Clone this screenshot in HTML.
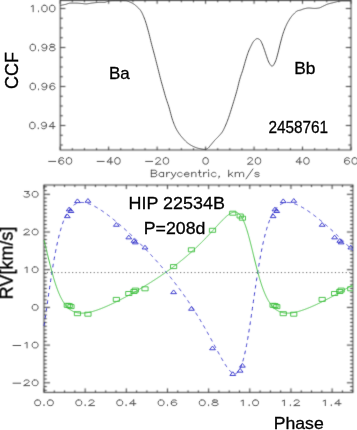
<!DOCTYPE html>
<html><head><meta charset="utf-8"><style>html,body{margin:0;padding:0;background:#fff;width:357px;height:430px;overflow:hidden}svg{display:block}text{will-change:transform}</style></head>
<body><svg width="357" height="430" viewBox="0 0 357 430">
<defs><clipPath id="cb"><rect x="44.0" y="185.0" width="308.9" height="207.39999999999998"/></clipPath><filter id="bl" x="0" y="0" width="357" height="430" filterUnits="userSpaceOnUse" color-interpolation-filters="sRGB"><feConvolveMatrix order="3" kernelMatrix="0.0400 0.1200 0.0400 0.1200 0.3600 0.1200 0.0400 0.1200 0.0400" edgeMode="duplicate"/></filter><filter id="bl2" x="0" y="0" width="357" height="430" filterUnits="userSpaceOnUse" color-interpolation-filters="sRGB"><feConvolveMatrix order="3" kernelMatrix="0.0100 0.0800 0.0100 0.0800 0.6400 0.0800 0.0100 0.0800 0.0100" edgeMode="none"/></filter></defs><rect width="357" height="430" fill="#fff"/><g filter="url(#bl)"><rect x="60.2" y="0.4" width="290.8" height="149.6" fill="none" stroke="#3a3a3a" stroke-width="1"/>
<path d="M60.20 150.0V146.60M60.20 0.4V3.80M72.32 150.0V148.20M72.32 0.4V2.20M84.43 150.0V148.20M84.43 0.4V2.20M96.55 150.0V148.20M96.55 0.4V2.20M108.67 150.0V146.60M108.67 0.4V3.80M120.78 150.0V148.20M120.78 0.4V2.20M132.90 150.0V148.20M132.90 0.4V2.20M145.02 150.0V148.20M145.02 0.4V2.20M157.13 150.0V146.60M157.13 0.4V3.80M169.25 150.0V148.20M169.25 0.4V2.20M181.37 150.0V148.20M181.37 0.4V2.20M193.48 150.0V148.20M193.48 0.4V2.20M205.60 150.0V146.60M205.60 0.4V3.80M217.72 150.0V148.20M217.72 0.4V2.20M229.83 150.0V148.20M229.83 0.4V2.20M241.95 150.0V148.20M241.95 0.4V2.20M254.07 150.0V146.60M254.07 0.4V3.80M266.18 150.0V148.20M266.18 0.4V2.20M278.30 150.0V148.20M278.30 0.4V2.20M290.42 150.0V148.20M290.42 0.4V2.20M302.53 150.0V146.60M302.53 0.4V3.80M314.65 150.0V148.20M314.65 0.4V2.20M326.77 150.0V148.20M326.77 0.4V2.20M338.88 150.0V148.20M338.88 0.4V2.20M351.00 150.0V146.60M351.00 0.4V3.80M60.2 145.00H62.80M351.0 145.00H348.40M60.2 135.25H62.80M351.0 135.25H348.40M60.2 125.50H65.40M351.0 125.50H345.80M60.2 115.75H62.80M351.0 115.75H348.40M60.2 106.00H62.80M351.0 106.00H348.40M60.2 96.25H62.80M351.0 96.25H348.40M60.2 86.50H65.40M351.0 86.50H345.80M60.2 76.75H62.80M351.0 76.75H348.40M60.2 67.00H62.80M351.0 67.00H348.40M60.2 57.25H62.80M351.0 57.25H348.40M60.2 47.50H65.40M351.0 47.50H345.80M60.2 37.75H62.80M351.0 37.75H348.40M60.2 28.00H62.80M351.0 28.00H348.40M60.2 18.25H62.80M351.0 18.25H348.40M60.2 8.50H65.40M351.0 8.50H345.80" stroke="#3a3a3a" stroke-width="1" fill="none"/>
<rect x="44.0" y="185.0" width="308.9" height="207.39999999999998" fill="none" stroke="#3a3a3a" stroke-width="1"/>
<path d="M44.00 392.4V388.40M44.00 185.0V189.00M54.29 392.4V390.40M54.29 185.0V187.00M64.58 392.4V390.40M64.58 185.0V187.00M74.87 392.4V390.40M74.87 185.0V187.00M85.16 392.4V388.40M85.16 185.0V189.00M95.45 392.4V390.40M95.45 185.0V187.00M105.74 392.4V390.40M105.74 185.0V187.00M116.03 392.4V390.40M116.03 185.0V187.00M126.32 392.4V388.40M126.32 185.0V189.00M136.61 392.4V390.40M136.61 185.0V187.00M146.90 392.4V390.40M146.90 185.0V187.00M157.19 392.4V390.40M157.19 185.0V187.00M167.48 392.4V388.40M167.48 185.0V189.00M177.77 392.4V390.40M177.77 185.0V187.00M188.06 392.4V390.40M188.06 185.0V187.00M198.35 392.4V390.40M198.35 185.0V187.00M208.64 392.4V388.40M208.64 185.0V189.00M218.93 392.4V390.40M218.93 185.0V187.00M229.22 392.4V390.40M229.22 185.0V187.00M239.51 392.4V390.40M239.51 185.0V187.00M249.80 392.4V388.40M249.80 185.0V189.00M260.09 392.4V390.40M260.09 185.0V187.00M270.38 392.4V390.40M270.38 185.0V187.00M280.67 392.4V390.40M280.67 185.0V187.00M290.96 392.4V388.40M290.96 185.0V189.00M301.25 392.4V390.40M301.25 185.0V187.00M311.54 392.4V390.40M311.54 185.0V187.00M321.83 392.4V390.40M321.83 185.0V187.00M332.12 392.4V388.40M332.12 185.0V189.00M342.41 392.4V390.40M342.41 185.0V187.00M352.70 392.4V390.40M352.70 185.0V187.00M44.0 390.34H46.80M352.9 390.34H350.10M44.0 386.57H46.80M352.9 386.57H350.10M44.0 382.80H50.00M352.9 382.80H346.90M44.0 379.03H46.80M352.9 379.03H350.10M44.0 375.26H46.80M352.9 375.26H350.10M44.0 371.49H46.80M352.9 371.49H350.10M44.0 367.72H46.80M352.9 367.72H350.10M44.0 363.95H46.80M352.9 363.95H350.10M44.0 360.18H46.80M352.9 360.18H350.10M44.0 356.41H46.80M352.9 356.41H350.10M44.0 352.64H46.80M352.9 352.64H350.10M44.0 348.87H46.80M352.9 348.87H350.10M44.0 345.10H50.00M352.9 345.10H346.90M44.0 341.33H46.80M352.9 341.33H350.10M44.0 337.56H46.80M352.9 337.56H350.10M44.0 333.79H46.80M352.9 333.79H350.10M44.0 330.02H46.80M352.9 330.02H350.10M44.0 326.25H46.80M352.9 326.25H350.10M44.0 322.48H46.80M352.9 322.48H350.10M44.0 318.71H46.80M352.9 318.71H350.10M44.0 314.94H46.80M352.9 314.94H350.10M44.0 311.17H46.80M352.9 311.17H350.10M44.0 307.40H50.00M352.9 307.40H346.90M44.0 303.63H46.80M352.9 303.63H350.10M44.0 299.86H46.80M352.9 299.86H350.10M44.0 296.09H46.80M352.9 296.09H350.10M44.0 292.32H46.80M352.9 292.32H350.10M44.0 288.55H46.80M352.9 288.55H350.10M44.0 284.78H46.80M352.9 284.78H350.10M44.0 281.01H46.80M352.9 281.01H350.10M44.0 277.24H46.80M352.9 277.24H350.10M44.0 273.47H46.80M352.9 273.47H350.10M44.0 269.70H50.00M352.9 269.70H346.90M44.0 265.93H46.80M352.9 265.93H350.10M44.0 262.16H46.80M352.9 262.16H350.10M44.0 258.39H46.80M352.9 258.39H350.10M44.0 254.62H46.80M352.9 254.62H350.10M44.0 250.85H46.80M352.9 250.85H350.10M44.0 247.08H46.80M352.9 247.08H350.10M44.0 243.31H46.80M352.9 243.31H350.10M44.0 239.54H46.80M352.9 239.54H350.10M44.0 235.77H46.80M352.9 235.77H350.10M44.0 232.00H50.00M352.9 232.00H346.90M44.0 228.23H46.80M352.9 228.23H350.10M44.0 224.46H46.80M352.9 224.46H350.10M44.0 220.69H46.80M352.9 220.69H350.10M44.0 216.92H46.80M352.9 216.92H350.10M44.0 213.15H46.80M352.9 213.15H350.10M44.0 209.38H46.80M352.9 209.38H350.10M44.0 205.61H46.80M352.9 205.61H350.10M44.0 201.84H46.80M352.9 201.84H350.10M44.0 198.07H46.80M352.9 198.07H350.10M44.0 194.30H50.00M352.9 194.30H346.90M44.0 190.53H46.80M352.9 190.53H350.10M44.0 186.76H46.80M352.9 186.76H350.10" stroke="#3a3a3a" stroke-width="1" fill="none"/>
</g><g filter="url(#bl2)"><path d="M48.70 161.41 L55.72 161.41 M63.52 158.62 L63.13 158.00 L61.96 157.69 L61.18 157.69 L60.01 158.00 L59.23 158.93 L58.84 160.48 L58.84 162.03 L59.23 163.27 L60.01 163.89 L61.18 164.20 L61.57 164.20 L62.74 163.89 L63.52 163.27 L63.91 162.34 L63.91 162.03 L63.52 161.10 L62.74 160.48 L61.57 160.17 L61.18 160.17 L60.01 160.48 L59.23 161.10 L58.84 162.03 M68.59 157.69 L67.42 158.00 L66.64 158.93 L66.25 160.48 L66.25 161.41 L66.64 162.96 L67.42 163.89 L68.59 164.20 L69.37 164.20 L70.54 163.89 L71.31 162.96 L71.71 161.41 L71.71 160.48 L71.31 158.93 L70.54 158.00 L69.37 157.69 L68.59 157.69 M97.16 161.41 L104.18 161.41 M110.81 157.69 L106.91 162.03 L112.76 162.03 M110.81 157.69 L110.81 164.20 M117.05 157.69 L115.88 158.00 L115.10 158.93 L114.71 160.48 L114.71 161.41 L115.10 162.96 L115.88 163.89 L117.05 164.20 L117.83 164.20 L119.00 163.89 L119.78 162.96 L120.17 161.41 L120.17 160.48 L119.78 158.93 L119.00 158.00 L117.83 157.69 L117.05 157.69 M145.63 161.41 L152.65 161.41 M155.77 159.24 L155.77 158.93 L156.16 158.31 L156.55 158.00 L157.33 157.69 L158.89 157.69 L159.67 158.00 L160.06 158.31 L160.45 158.93 L160.45 159.55 L160.06 160.17 L159.28 161.10 L155.38 164.20 L160.84 164.20 M165.52 157.69 L164.35 158.00 L163.57 158.93 L163.18 160.48 L163.18 161.41 L163.57 162.96 L164.35 163.89 L165.52 164.20 L166.30 164.20 L167.47 163.89 L168.25 162.96 L168.64 161.41 L168.64 160.48 L168.25 158.93 L167.47 158.00 L166.30 157.69 L165.52 157.69 M205.21 157.69 L204.04 158.00 L203.26 158.93 L202.87 160.48 L202.87 161.41 L203.26 162.96 L204.04 163.89 L205.21 164.20 L205.99 164.20 L207.16 163.89 L207.94 162.96 L208.33 161.41 L208.33 160.48 L207.94 158.93 L207.16 158.00 L205.99 157.69 L205.21 157.69 M247.83 159.24 L247.83 158.93 L248.22 158.31 L248.61 158.00 L249.39 157.69 L250.95 157.69 L251.73 158.00 L252.12 158.31 L252.51 158.93 L252.51 159.55 L252.12 160.17 L251.34 161.10 L247.44 164.20 L252.90 164.20 M257.58 157.69 L256.41 158.00 L255.63 158.93 L255.24 160.48 L255.24 161.41 L255.63 162.96 L256.41 163.89 L257.58 164.20 L258.36 164.20 L259.53 163.89 L260.31 162.96 L260.70 161.41 L260.70 160.48 L260.31 158.93 L259.53 158.00 L258.36 157.69 L257.58 157.69 M299.80 157.69 L295.90 162.03 L301.75 162.03 M299.80 157.69 L299.80 164.20 M306.04 157.69 L304.87 158.00 L304.09 158.93 L303.70 160.48 L303.70 161.41 L304.09 162.96 L304.87 163.89 L306.04 164.20 L306.82 164.20 L307.99 163.89 L308.77 162.96 L309.16 161.41 L309.16 160.48 L308.77 158.93 L307.99 158.00 L306.82 157.69 L306.04 157.69 M349.25 158.62 L348.86 158.00 L347.69 157.69 L346.90 157.69 L345.74 158.00 L344.95 158.93 L344.56 160.48 L344.56 162.03 L344.95 163.27 L345.74 163.89 L346.90 164.20 L347.30 164.20 L348.46 163.89 L349.25 163.27 L349.63 162.34 L349.63 162.03 L349.25 161.10 L348.46 160.48 L347.30 160.17 L346.90 160.17 L345.74 160.48 L344.95 161.10 L344.56 162.03 M354.31 157.69 L353.14 158.00 L352.37 158.93 L351.98 160.48 L351.98 161.41 L352.37 162.96 L353.14 163.89 L354.31 164.20 L355.09 164.20 L356.26 163.89 L357.05 162.96 L357.44 161.41 L357.44 160.48 L357.05 158.93 L356.26 158.00 L355.09 157.69 L354.31 157.69 M31.21 6.48 L31.99 6.17 L33.16 5.24 L33.16 11.75 M38.62 11.13 L38.23 11.44 L38.62 11.75 L39.01 11.44 L38.62 11.13 M44.08 5.24 L42.91 5.55 L42.13 6.48 L41.74 8.04 L41.74 8.96 L42.13 10.51 L42.91 11.44 L44.08 11.75 L44.86 11.75 L46.03 11.44 L46.81 10.51 L47.20 8.96 L47.20 8.04 L46.81 6.48 L46.03 5.55 L44.86 5.24 L44.08 5.24 M51.88 5.24 L50.71 5.55 L49.93 6.48 L49.54 8.04 L49.54 8.96 L49.93 10.51 L50.71 11.44 L51.88 11.75 L52.66 11.75 L53.83 11.44 L54.61 10.51 L55.00 8.96 L55.00 8.04 L54.61 6.48 L53.83 5.55 L52.66 5.24 L51.88 5.24 M32.38 44.25 L31.21 44.56 L30.43 45.49 L30.04 47.04 L30.04 47.97 L30.43 49.52 L31.21 50.45 L32.38 50.76 L33.16 50.76 L34.33 50.45 L35.11 49.52 L35.50 47.97 L35.50 47.04 L35.11 45.49 L34.33 44.56 L33.16 44.25 L32.38 44.25 M38.62 50.14 L38.23 50.45 L38.62 50.76 L39.01 50.45 L38.62 50.14 M46.81 46.42 L46.42 47.35 L45.64 47.97 L44.47 48.28 L44.08 48.28 L42.91 47.97 L42.13 47.35 L41.74 46.42 L41.74 46.11 L42.13 45.18 L42.91 44.56 L44.08 44.25 L44.47 44.25 L45.64 44.56 L46.42 45.18 L46.81 46.42 L46.81 47.97 L46.42 49.52 L45.64 50.45 L44.47 50.76 L43.69 50.76 L42.52 50.45 L42.13 49.83 M51.49 44.25 L50.32 44.56 L49.93 45.18 L49.93 45.80 L50.32 46.42 L51.10 46.73 L52.66 47.04 L53.83 47.35 L54.61 47.97 L55.00 48.59 L55.00 49.52 L54.61 50.14 L54.22 50.45 L53.05 50.76 L51.49 50.76 L50.32 50.45 L49.93 50.14 L49.54 49.52 L49.54 48.59 L49.93 47.97 L50.71 47.35 L51.88 47.04 L53.44 46.73 L54.22 46.42 L54.61 45.80 L54.61 45.18 L54.22 44.56 L53.05 44.25 L51.49 44.25 M32.38 83.25 L31.21 83.56 L30.43 84.49 L30.04 86.04 L30.04 86.97 L30.43 88.52 L31.21 89.45 L32.38 89.76 L33.16 89.76 L34.33 89.45 L35.11 88.52 L35.50 86.97 L35.50 86.04 L35.11 84.49 L34.33 83.56 L33.16 83.25 L32.38 83.25 M38.62 89.14 L38.23 89.45 L38.62 89.76 L39.01 89.45 L38.62 89.14 M46.81 85.42 L46.42 86.35 L45.64 86.97 L44.47 87.28 L44.08 87.28 L42.91 86.97 L42.13 86.35 L41.74 85.42 L41.74 85.11 L42.13 84.18 L42.91 83.56 L44.08 83.25 L44.47 83.25 L45.64 83.56 L46.42 84.18 L46.81 85.42 L46.81 86.97 L46.42 88.52 L45.64 89.45 L44.47 89.76 L43.69 89.76 L42.52 89.45 L42.13 88.83 M54.61 84.18 L54.22 83.56 L53.05 83.25 L52.27 83.25 L51.10 83.56 L50.32 84.49 L49.93 86.04 L49.93 87.59 L50.32 88.83 L51.10 89.45 L52.27 89.76 L52.66 89.76 L53.83 89.45 L54.61 88.83 L55.00 87.90 L55.00 87.59 L54.61 86.66 L53.83 86.04 L52.66 85.73 L52.27 85.73 L51.10 86.04 L50.32 86.66 L49.93 87.59 M31.99 122.25 L30.82 122.56 L30.04 123.49 L29.65 125.04 L29.65 125.97 L30.04 127.52 L30.82 128.45 L31.99 128.76 L32.77 128.76 L33.94 128.45 L34.72 127.52 L35.11 125.97 L35.11 125.04 L34.72 123.49 L33.94 122.56 L32.77 122.25 L31.99 122.25 M38.23 128.14 L37.84 128.45 L38.23 128.76 L38.62 128.45 L38.23 128.14 M46.42 124.42 L46.03 125.35 L45.25 125.97 L44.08 126.28 L43.69 126.28 L42.52 125.97 L41.74 125.35 L41.35 124.42 L41.35 124.11 L41.74 123.18 L42.52 122.56 L43.69 122.25 L44.08 122.25 L45.25 122.56 L46.03 123.18 L46.42 124.42 L46.42 125.97 L46.03 127.52 L45.25 128.45 L44.08 128.76 L43.30 128.76 L42.13 128.45 L41.74 127.83 M53.05 122.25 L49.15 126.59 L55.00 126.59 M53.05 122.25 L53.05 128.76 M151.30 170.19 L151.30 176.70 M151.30 170.19 L154.77 170.19 L155.92 170.50 L156.31 170.81 L156.69 171.43 L156.69 172.05 L156.31 172.67 L155.92 172.98 L154.77 173.29 M151.30 173.29 L154.77 173.29 L155.92 173.60 L156.31 173.91 L156.69 174.53 L156.69 175.46 L156.31 176.08 L155.92 176.39 L154.77 176.70 L151.30 176.70 M163.62 172.36 L163.62 176.70 M163.62 173.29 L162.85 172.67 L162.08 172.36 L160.93 172.36 L160.16 172.67 L159.39 173.29 L159.00 174.22 L159.00 174.84 L159.39 175.77 L160.16 176.39 L160.93 176.70 L162.08 176.70 L162.85 176.39 L163.62 175.77 M166.70 172.36 L166.70 176.70 M166.70 174.22 L167.09 173.29 L167.86 172.67 L168.63 172.36 L169.78 172.36 M171.32 172.36 L173.63 176.70 M175.94 172.36 L173.63 176.70 L172.86 177.94 L172.09 178.56 L171.32 178.87 L170.94 178.87 M182.10 173.29 L181.33 172.67 L180.56 172.36 L179.41 172.36 L178.64 172.67 L177.87 173.29 L177.48 174.22 L177.48 174.84 L177.87 175.77 L178.64 176.39 L179.41 176.70 L180.56 176.70 L181.33 176.39 L182.10 175.77 M184.41 174.22 L189.03 174.22 L189.03 173.60 L188.65 172.98 L188.26 172.67 L187.49 172.36 L186.34 172.36 L185.57 172.67 L184.80 173.29 L184.41 174.22 L184.41 174.84 L184.80 175.77 L185.57 176.39 L186.34 176.70 L187.49 176.70 L188.26 176.39 L189.03 175.77 M191.73 172.36 L191.73 176.70 M191.73 173.60 L192.88 172.67 L193.65 172.36 L194.81 172.36 L195.58 172.67 L195.96 173.60 L195.96 176.70 M199.43 170.19 L199.43 175.46 L199.81 176.39 L200.58 176.70 L201.35 176.70 M198.27 172.36 L200.97 172.36 M203.66 172.36 L203.66 176.70 M203.66 174.22 L204.05 173.29 L204.82 172.67 L205.59 172.36 L206.74 172.36 M208.28 170.19 L208.67 170.50 L209.05 170.19 L208.67 169.88 L208.28 170.19 M208.67 172.36 L208.67 176.70 M215.98 173.29 L215.21 172.67 L214.44 172.36 L213.29 172.36 L212.52 172.67 L211.75 173.29 L211.36 174.22 L211.36 174.84 L211.75 175.77 L212.52 176.39 L213.29 176.70 L214.44 176.70 L215.21 176.39 L215.98 175.77 M219.45 176.39 L219.06 176.70 L218.68 176.39 L219.06 176.08 L219.45 176.39 L219.45 177.01 L219.06 177.63 L218.68 177.94 M228.69 170.19 L228.69 176.70 M232.54 172.36 L228.69 175.46 M230.23 174.22 L232.92 176.70 M235.23 172.36 L235.23 176.70 M235.23 173.60 L236.39 172.67 L237.16 172.36 L238.31 172.36 L239.08 172.67 L239.47 173.60 L239.47 176.70 M239.47 173.60 L240.62 172.67 L241.39 172.36 L242.55 172.36 L243.32 172.67 L243.70 173.60 L243.70 176.70 M252.94 168.95 L246.01 178.87 M259.10 173.29 L258.72 172.67 L257.56 172.36 L256.41 172.36 L255.25 172.67 L254.87 173.29 L255.25 173.91 L256.02 174.22 L257.95 174.53 L258.72 174.84 L259.10 175.46 L259.10 175.77 L258.72 176.39 L257.56 176.70 L256.41 176.70 L255.25 176.39 L254.87 175.77" stroke="#4a4a4a" stroke-width="0.95" fill="none" stroke-linecap="round" stroke-linejoin="round"/>
<path d="M60.20 5.40 L60.70 5.32 L61.20 5.23 L61.70 5.15 L62.20 5.06 L62.70 4.96 L63.20 4.87 L63.70 4.77 L64.20 4.67 L64.70 4.56 L65.20 4.46 L65.70 4.33 L66.20 4.18 L66.70 4.02 L67.20 3.85 L67.70 3.68 L68.20 3.53 L68.70 3.38 L69.20 3.26 L69.70 3.17 L70.20 3.11 L70.70 3.10 L71.20 3.10 L71.70 3.10 L72.20 3.10 L72.70 3.10 L73.20 3.10 L73.70 3.10 L74.20 3.10 L74.70 3.10 L75.20 3.10 L75.70 3.10 L76.20 3.10 L76.70 3.11 L77.20 3.12 L77.70 3.15 L78.20 3.18 L78.70 3.22 L79.20 3.26 L79.70 3.31 L80.20 3.35 L80.70 3.40 L81.20 3.45 L81.70 3.49 L82.20 3.54 L82.70 3.59 L83.20 3.65 L83.70 3.72 L84.20 3.78 L84.70 3.83 L85.20 3.87 L85.70 3.90 L86.20 3.90 L86.70 3.88 L87.20 3.83 L87.70 3.77 L88.20 3.69 L88.70 3.60 L89.20 3.51 L89.70 3.42 L90.20 3.32 L90.70 3.23 L91.20 3.15 L91.70 3.09 L92.20 3.03 L92.70 2.97 L93.20 2.91 L93.70 2.85 L94.20 2.79 L94.70 2.74 L95.20 2.69 L95.70 2.64 L96.20 2.59 L96.70 2.54 L97.20 2.50 L97.70 2.45 L98.20 2.41 L98.70 2.36 L99.20 2.33 L99.70 2.30 L100.20 2.30 L100.70 2.31 L101.20 2.32 L101.70 2.34 L102.20 2.35 L102.70 2.37 L103.20 2.39 L103.70 2.40 L104.20 2.40 L104.70 2.36 L105.20 2.26 L105.70 2.11 L106.20 1.93 L106.70 1.75 L107.20 1.57 L107.70 1.42 L108.20 1.30 L108.70 1.17 L109.20 1.04 L109.70 0.92 L110.20 0.81 L110.70 0.74 L111.20 0.70 L111.70 0.68 L112.20 0.67 L112.70 0.65 L113.20 0.64 L113.70 0.63 L114.20 0.62 L114.70 0.61 L115.20 0.61 L115.70 0.60 L116.20 0.60 L116.70 0.60 L117.20 0.60 L117.70 0.60 L118.20 0.60 L118.70 0.60 L119.20 0.60 L119.70 0.60 L120.20 0.60 L120.70 0.60 L121.20 0.60 L121.70 0.60 L122.20 0.60 L122.70 0.60 L123.20 0.61 L123.70 0.62 L124.20 0.64 L124.70 0.65 L125.20 0.67 L125.70 0.70 L126.20 0.74 L126.70 0.84 L127.20 0.98 L127.70 1.16 L128.20 1.35 L128.70 1.55 L129.20 1.74 L129.70 1.93 L130.20 2.14 L130.70 2.35 L131.20 2.59 L131.70 2.83 L132.20 3.09 L132.70 3.37 L133.20 3.66 L133.70 3.96 L134.20 4.30 L134.70 4.68 L135.20 5.09 L135.70 5.52 L136.20 5.96 L136.70 6.42 L137.20 6.88 L137.70 7.34 L138.20 7.80 L138.70 8.29 L139.20 8.80 L139.70 9.35 L140.20 9.96 L140.70 10.64 L141.20 11.42 L141.70 12.31 L142.20 13.30 L142.70 14.36 L143.20 15.50 L143.70 16.70 L144.20 17.95 L144.70 19.24 L145.20 20.59 L145.70 22.08 L146.20 23.68 L146.70 25.36 L147.20 27.11 L147.70 28.90 L148.20 30.70 L148.70 32.56 L149.20 34.51 L149.70 36.53 L150.20 38.57 L150.70 40.62 L151.20 42.64 L151.70 44.60 L152.20 46.49 L152.70 48.34 L153.20 50.18 L153.70 52.01 L154.20 53.87 L154.70 55.76 L155.20 57.70 L155.70 59.65 L156.20 61.61 L156.70 63.57 L157.20 65.54 L157.70 67.52 L158.20 69.51 L158.70 71.50 L159.20 73.53 L159.70 75.56 L160.20 77.54 L160.70 79.45 L161.20 81.30 L161.70 83.10 L162.20 84.87 L162.70 86.63 L163.20 88.40 L163.70 90.19 L164.20 91.98 L164.70 93.77 L165.20 95.52 L165.70 97.22 L166.20 98.84 L166.70 100.36 L167.20 101.82 L167.70 103.27 L168.20 104.74 L168.70 106.28 L169.20 107.94 L169.70 109.73 L170.20 111.60 L170.70 113.50 L171.20 115.37 L171.70 117.18 L172.20 118.88 L172.70 120.40 L173.20 121.79 L173.70 123.13 L174.20 124.40 L174.70 125.60 L175.20 126.74 L175.70 127.80 L176.20 128.80 L176.70 129.73 L177.20 130.61 L177.70 131.44 L178.20 132.23 L178.70 132.98 L179.20 133.70 L179.70 134.40 L180.20 135.07 L180.70 135.71 L181.20 136.32 L181.70 136.91 L182.20 137.49 L182.70 138.05 L183.20 138.60 L183.70 139.15 L184.20 139.69 L184.70 140.23 L185.20 140.76 L185.70 141.27 L186.20 141.76 L186.70 142.22 L187.20 142.64 L187.70 143.03 L188.20 143.41 L188.70 143.77 L189.20 144.11 L189.70 144.45 L190.20 144.77 L190.70 145.07 L191.20 145.36 L191.70 145.64 L192.20 145.91 L192.70 146.16 L193.20 146.39 L193.70 146.62 L194.20 146.85 L194.70 147.07 L195.20 147.28 L195.70 147.48 L196.20 147.67 L196.70 147.85 L197.20 148.02 L197.70 148.17 L198.20 148.30 L198.70 148.42 L199.20 148.54 L199.70 148.65 L200.20 148.76 L200.70 148.87 L201.20 148.97 L201.70 149.07 L202.20 149.16 L202.70 149.23 L203.20 149.30 L203.70 149.35 L204.20 149.38 L204.70 149.40 L205.20 149.38 L205.70 149.30 L206.20 149.15 L206.70 148.96 L207.20 148.74 L207.70 148.49 L208.20 148.10 L208.70 147.58 L209.20 146.97 L209.70 146.32 L210.20 145.68 L210.70 145.09 L211.20 144.50 L211.70 143.90 L212.20 143.29 L212.70 142.68 L213.20 142.07 L213.70 141.47 L214.20 140.88 L214.70 140.31 L215.20 139.77 L215.70 139.25 L216.20 138.75 L216.70 138.25 L217.20 137.76 L217.70 137.26 L218.20 136.75 L218.70 136.22 L219.20 135.67 L219.70 135.13 L220.20 134.58 L220.70 134.02 L221.20 133.43 L221.70 132.79 L222.20 132.10 L222.70 131.32 L223.20 130.43 L223.70 129.45 L224.20 128.40 L224.70 127.31 L225.20 126.20 L225.70 125.07 L226.20 123.90 L226.70 122.68 L227.20 121.41 L227.70 120.10 L228.20 118.75 L228.70 117.33 L229.20 115.85 L229.70 114.33 L230.20 112.77 L230.70 111.21 L231.20 109.64 L231.70 108.03 L232.20 106.41 L232.70 104.76 L233.20 103.11 L233.70 101.47 L234.20 99.84 L234.70 98.22 L235.20 96.57 L235.70 94.89 L236.20 93.15 L236.70 91.35 L237.20 89.50 L237.70 87.54 L238.20 85.49 L238.70 83.41 L239.20 81.39 L239.70 79.50 L240.20 77.81 L240.70 76.26 L241.20 74.81 L241.70 73.39 L242.20 71.94 L242.70 70.40 L243.20 68.74 L243.70 67.00 L244.20 65.21 L244.70 63.44 L245.20 61.70 L245.70 60.04 L246.20 58.39 L246.70 56.76 L247.20 55.18 L247.70 53.68 L248.20 52.30 L248.70 51.03 L249.20 49.84 L249.70 48.70 L250.20 47.63 L250.70 46.60 L251.20 45.60 L251.70 44.59 L252.20 43.60 L252.70 42.68 L253.20 41.86 L253.70 41.21 L254.20 40.69 L254.70 40.18 L255.20 39.70 L255.70 39.28 L256.20 38.94 L256.70 38.71 L257.20 38.60 L257.70 38.64 L258.20 38.78 L258.70 39.02 L259.20 39.32 L259.70 39.68 L260.20 40.09 L260.70 40.75 L261.20 41.69 L261.70 42.78 L262.20 43.90 L262.70 45.08 L263.20 46.40 L263.70 47.79 L264.20 49.22 L264.70 50.67 L265.20 52.19 L265.70 53.74 L266.20 55.23 L266.70 56.65 L267.20 58.12 L267.70 59.57 L268.20 60.91 L268.70 62.06 L269.20 62.96 L269.70 63.76 L270.20 64.54 L270.70 65.22 L271.20 65.77 L271.70 66.11 L272.20 66.19 L272.70 65.97 L273.20 65.48 L273.70 64.79 L274.20 63.93 L274.70 62.98 L275.20 62.00 L275.70 60.88 L276.20 59.43 L276.70 57.74 L277.20 55.91 L277.70 54.06 L278.20 52.18 L278.70 50.13 L279.20 48.01 L279.70 45.90 L280.20 43.90 L280.70 41.98 L281.20 40.07 L281.70 38.19 L282.20 36.38 L282.70 34.67 L283.20 33.09 L283.70 31.65 L284.20 30.28 L284.70 28.98 L285.20 27.73 L285.70 26.55 L286.20 25.43 L286.70 24.37 L287.20 23.37 L287.70 22.43 L288.20 21.53 L288.70 20.66 L289.20 19.82 L289.70 19.02 L290.20 18.25 L290.70 17.53 L291.20 16.85 L291.70 16.21 L292.20 15.62 L292.70 15.07 L293.20 14.53 L293.70 13.99 L294.20 13.47 L294.70 12.96 L295.20 12.49 L295.70 12.05 L296.20 11.64 L296.70 11.29 L297.20 10.99 L297.70 10.75 L298.20 10.57 L298.70 10.45 L299.20 10.36 L299.70 10.27 L300.20 10.15 L300.70 9.99 L301.20 9.82 L301.70 9.63 L302.20 9.43 L302.70 9.24 L303.20 9.05 L303.70 8.89 L304.20 8.75 L304.70 8.63 L305.20 8.52 L305.70 8.41 L306.20 8.30 L306.70 8.20 L307.20 8.12 L307.70 8.06 L308.20 8.01 L308.70 8.00 L309.20 8.01 L309.70 8.03 L310.20 8.06 L310.70 8.11 L311.20 8.15 L311.70 8.21 L312.20 8.26 L312.70 8.30 L313.20 8.34 L313.70 8.37 L314.20 8.39 L314.70 8.40 L315.20 8.39 L315.70 8.37 L316.20 8.33 L316.70 8.29 L317.20 8.23 L317.70 8.17 L318.20 8.10 L318.70 8.03 L319.20 7.94 L319.70 7.81 L320.20 7.62 L320.70 7.40 L321.20 7.16 L321.70 6.90 L322.20 6.64 L322.70 6.38 L323.20 6.14 L323.70 5.92 L324.20 5.68 L324.70 5.43 L325.20 5.19 L325.70 4.94 L326.20 4.71 L326.70 4.48 L327.20 4.28 L327.70 4.10 L328.20 3.94 L328.70 3.79 L329.20 3.65 L329.70 3.52 L330.20 3.39 L330.70 3.27 L331.20 3.15 L331.70 3.03 L332.20 2.92 L332.70 2.80 L333.20 2.68 L333.70 2.55 L334.20 2.42 L334.70 2.28 L335.20 2.15 L335.70 2.02 L336.20 1.89 L336.70 1.77 L337.20 1.65 L337.70 1.54 L338.20 1.44 L338.70 1.33 L339.20 1.22 L339.70 1.11 L340.20 1.02 L340.70 0.93 L341.20 0.86 L341.70 0.82 L342.20 0.80 L342.70 0.80 L343.20 0.80 L343.70 0.80 L344.20 0.80 L344.70 0.80 L345.20 0.80 L345.70 0.80 L346.20 0.80 L346.70 0.80 L347.20 0.80 L347.70 0.80 L348.20 0.80 L348.70 0.83 L349.20 0.89 L349.70 0.97 L350.20 1.05 L350.70 1.15" stroke="#4a4a4a" stroke-width="1" fill="none"/>
<path d="M37.20 399.93 L35.92 400.20 L35.08 401.01 L34.65 402.36 L34.65 403.17 L35.08 404.52 L35.92 405.33 L37.20 405.60 L38.05 405.60 L39.33 405.33 L40.17 404.52 L40.60 403.17 L40.60 402.36 L40.17 401.01 L39.33 400.20 L38.05 399.93 L37.20 399.93 M44.00 405.06 L43.58 405.33 L44.00 405.60 L44.42 405.33 L44.00 405.06 M49.95 399.93 L48.67 400.20 L47.83 401.01 L47.40 402.36 L47.40 403.17 L47.83 404.52 L48.67 405.33 L49.95 405.60 L50.80 405.60 L52.08 405.33 L52.92 404.52 L53.35 403.17 L53.35 402.36 L52.92 401.01 L52.08 400.20 L50.80 399.93 L49.95 399.93 M78.36 399.93 L77.08 400.20 L76.23 401.01 L75.81 402.36 L75.81 403.17 L76.23 404.52 L77.08 405.33 L78.36 405.60 L79.21 405.60 L80.48 405.33 L81.33 404.52 L81.76 403.17 L81.76 402.36 L81.33 401.01 L80.48 400.20 L79.21 399.93 L78.36 399.93 M85.16 405.06 L84.73 405.33 L85.16 405.60 L85.58 405.33 L85.16 405.06 M88.98 401.28 L88.98 401.01 L89.41 400.47 L89.83 400.20 L90.69 399.93 L92.38 399.93 L93.23 400.20 L93.66 400.47 L94.08 401.01 L94.08 401.55 L93.66 402.09 L92.81 402.90 L88.56 405.60 L94.51 405.60 M119.31 399.93 L118.03 400.20 L117.18 401.01 L116.76 402.36 L116.76 403.17 L117.18 404.52 L118.03 405.33 L119.31 405.60 L120.16 405.60 L121.43 405.33 L122.28 404.52 L122.71 403.17 L122.71 402.36 L122.28 401.01 L121.43 400.20 L120.16 399.93 L119.31 399.93 M126.11 405.06 L125.68 405.33 L126.11 405.60 L126.53 405.33 L126.11 405.06 M133.76 399.93 L129.51 403.71 L135.88 403.71 M133.76 399.93 L133.76 405.60 M160.68 399.93 L159.41 400.20 L158.56 401.01 L158.13 402.36 L158.13 403.17 L158.56 404.52 L159.41 405.33 L160.68 405.60 L161.53 405.60 L162.81 405.33 L163.66 404.52 L164.08 403.17 L164.08 402.36 L163.66 401.01 L162.81 400.20 L161.53 399.93 L160.68 399.93 M167.48 405.06 L167.06 405.33 L167.48 405.60 L167.91 405.33 L167.48 405.06 M176.41 400.74 L175.98 400.20 L174.71 399.93 L173.86 399.93 L172.58 400.20 L171.73 401.01 L171.31 402.36 L171.31 403.71 L171.73 404.79 L172.58 405.33 L173.86 405.60 L174.28 405.60 L175.56 405.33 L176.41 404.79 L176.83 403.98 L176.83 403.71 L176.41 402.90 L175.56 402.36 L174.28 402.09 L173.86 402.09 L172.58 402.36 L171.73 402.90 L171.31 403.71 M201.84 399.93 L200.57 400.20 L199.72 401.01 L199.29 402.36 L199.29 403.17 L199.72 404.52 L200.57 405.33 L201.84 405.60 L202.69 405.60 L203.97 405.33 L204.82 404.52 L205.24 403.17 L205.24 402.36 L204.82 401.01 L203.97 400.20 L202.69 399.93 L201.84 399.93 M208.64 405.06 L208.22 405.33 L208.64 405.60 L209.07 405.33 L208.64 405.06 M214.17 399.93 L212.89 400.20 L212.47 400.74 L212.47 401.28 L212.89 401.82 L213.74 402.09 L215.44 402.36 L216.72 402.63 L217.57 403.17 L217.99 403.71 L217.99 404.52 L217.57 405.06 L217.14 405.33 L215.87 405.60 L214.17 405.60 L212.89 405.33 L212.47 405.06 L212.04 404.52 L212.04 403.71 L212.47 403.17 L213.32 402.63 L214.59 402.36 L216.29 402.09 L217.14 401.82 L217.57 401.28 L217.57 400.74 L217.14 400.20 L215.87 399.93 L214.17 399.93 M241.09 401.01 L241.94 400.74 L243.21 399.93 L243.21 405.60 M249.16 405.06 L248.74 405.33 L249.16 405.60 L249.59 405.33 L249.16 405.06 M255.11 399.93 L253.84 400.20 L252.99 401.01 L252.56 402.36 L252.56 403.17 L252.99 404.52 L253.84 405.33 L255.11 405.60 L255.96 405.60 L257.24 405.33 L258.09 404.52 L258.51 403.17 L258.51 402.36 L258.09 401.01 L257.24 400.20 L255.96 399.93 L255.11 399.93 M282.25 401.01 L283.10 400.74 L284.37 399.93 L284.37 405.60 M290.32 405.06 L289.90 405.33 L290.32 405.60 L290.75 405.33 L290.32 405.06 M294.15 401.28 L294.15 401.01 L294.57 400.47 L295.00 400.20 L295.85 399.93 L297.55 399.93 L298.40 400.20 L298.82 400.47 L299.25 401.01 L299.25 401.55 L298.82 402.09 L297.97 402.90 L293.72 405.60 L299.67 405.60 M323.20 401.01 L324.05 400.74 L325.32 399.93 L325.32 405.60 M331.27 405.06 L330.85 405.33 L331.27 405.60 L331.70 405.33 L331.27 405.06 M338.92 399.93 L334.67 403.71 L341.05 403.71 M338.92 399.93 L338.92 405.60 M24.50 191.47 L29.18 191.47 L26.62 193.62 L27.90 193.62 L28.75 193.89 L29.18 194.16 L29.60 194.97 L29.60 195.51 L29.18 196.32 L28.32 196.86 L27.05 197.13 L25.77 197.13 L24.50 196.86 L24.07 196.59 L23.65 196.05 M34.70 191.47 L33.42 191.73 L32.58 192.54 L32.15 193.89 L32.15 194.70 L32.58 196.05 L33.42 196.86 L34.70 197.13 L35.55 197.13 L36.83 196.86 L37.67 196.05 L38.10 194.70 L38.10 193.89 L37.67 192.54 L36.83 191.73 L35.55 191.47 L34.70 191.47 M24.07 230.51 L24.07 230.24 L24.50 229.70 L24.93 229.43 L25.77 229.16 L27.48 229.16 L28.32 229.43 L28.75 229.70 L29.18 230.24 L29.18 230.78 L28.75 231.32 L27.90 232.13 L23.65 234.83 L29.60 234.83 M34.70 229.16 L33.42 229.43 L32.58 230.24 L32.15 231.59 L32.15 232.40 L32.58 233.75 L33.42 234.56 L34.70 234.83 L35.55 234.83 L36.83 234.56 L37.67 233.75 L38.10 232.40 L38.10 231.59 L37.67 230.24 L36.83 229.43 L35.55 229.16 L34.70 229.16 M24.93 267.94 L25.77 267.67 L27.05 266.86 L27.05 272.53 M34.70 266.86 L33.42 267.13 L32.58 267.94 L32.15 269.29 L32.15 270.10 L32.58 271.45 L33.42 272.26 L34.70 272.53 L35.55 272.53 L36.83 272.26 L37.67 271.45 L38.10 270.10 L38.10 269.29 L37.67 267.94 L36.83 267.13 L35.55 266.86 L34.70 266.86 M34.70 304.56 L33.42 304.83 L32.58 305.64 L32.15 306.99 L32.15 307.80 L32.58 309.15 L33.42 309.96 L34.70 310.23 L35.55 310.23 L36.83 309.96 L37.67 309.15 L38.10 307.80 L38.10 306.99 L37.67 305.64 L36.83 304.83 L35.55 304.56 L34.70 304.56 M13.03 345.50 L20.68 345.50 M24.93 343.34 L25.78 343.07 L27.05 342.26 L27.05 347.93 M34.70 342.26 L33.42 342.53 L32.58 343.34 L32.15 344.69 L32.15 345.50 L32.58 346.85 L33.42 347.66 L34.70 347.93 L35.55 347.93 L36.83 347.66 L37.67 346.85 L38.10 345.50 L38.10 344.69 L37.67 343.34 L36.83 342.53 L35.55 342.26 L34.70 342.26 M13.03 383.20 L20.68 383.20 M24.08 381.31 L24.08 381.04 L24.50 380.50 L24.93 380.23 L25.78 379.96 L27.48 379.96 L28.33 380.23 L28.75 380.50 L29.18 381.04 L29.18 381.58 L28.75 382.12 L27.90 382.93 L23.65 385.63 L29.60 385.63 M34.70 379.96 L33.42 380.23 L32.58 381.04 L32.15 382.39 L32.15 383.20 L32.58 384.55 L33.42 385.36 L34.70 385.63 L35.55 385.63 L36.83 385.36 L37.67 384.55 L38.10 383.20 L38.10 382.39 L37.67 381.04 L36.83 380.23 L35.55 379.96 L34.70 379.96" stroke="#4a4a4a" stroke-width="0.95" fill="none" stroke-linecap="round" stroke-linejoin="round"/>
<line x1="44.0" x2="352.9" y1="272.6" y2="272.6" stroke="#707070" stroke-width="1" stroke-dasharray="1.2 2.4" stroke-dashoffset="0.75"/>
<path d="M44.00 325.92 L44.26 324.24 L44.51 322.55 L44.77 320.84 L45.03 319.12 L45.29 317.39 L45.54 315.64 L45.80 313.89 L46.06 312.13 L46.32 310.36 L46.57 308.58 L46.83 306.80 L47.09 305.01 L47.34 303.22 L47.60 301.44 L47.86 299.65 L48.12 297.87 L48.37 296.08 L48.63 294.31 L48.89 292.54 L49.15 290.77 L49.40 289.01 L49.66 287.27 L49.92 285.53 L50.17 283.80 L50.43 282.09 L50.69 280.39 L50.95 278.70 L51.20 277.03 L51.46 275.37 L51.72 273.73 L51.97 272.10 L52.23 270.50 L52.49 268.91 L52.75 267.34 L53.00 265.79 L53.26 264.26 L53.52 262.75 L53.78 261.26 L54.03 259.79 L54.29 258.35 L54.55 256.92 L54.80 255.52 L55.06 254.14 L55.32 252.78 L55.58 251.45 L55.83 250.13 L56.09 248.84 L56.35 247.58 L56.61 246.33 L56.86 245.11 L57.12 243.91 L57.38 242.74 L57.63 241.58 L57.89 240.45 L58.15 239.34 L58.41 238.26 L58.66 237.19 L58.92 236.15 L59.18 235.13 L59.44 234.13 L59.69 233.16 L59.95 232.20 L60.21 231.27 L60.46 230.35 L60.72 229.46 L60.98 228.59 L61.24 227.74 L61.49 226.91 L61.75 226.09 L62.01 225.30 L62.26 224.52 L62.52 223.77 L62.78 223.03 L63.04 222.31 L63.29 221.61 L63.55 220.93 L63.81 220.26 L64.07 219.61 L64.32 218.98 L64.58 218.37 L64.84 217.77 L65.09 217.18 L65.35 216.62 L65.61 216.06 L65.87 215.53 L66.12 215.01 L66.38 214.50 L66.64 214.00 L66.90 213.53 L67.15 213.06 L67.41 212.61 L67.67 212.17 L67.92 211.74 L68.18 211.33 L68.44 210.93 L68.70 210.54 L68.95 210.17 L69.21 209.80 L69.47 209.45 L69.72 209.11 L69.98 208.78 L70.24 208.46 L70.50 208.15 L70.75 207.85 L71.01 207.56 L71.27 207.29 L71.53 207.02 L71.78 206.76 L72.04 206.51 L72.30 206.27 L72.55 206.04 L72.81 205.82 L73.07 205.61 L73.33 205.40 L73.58 205.20 L73.84 205.02 L74.10 204.84 L74.36 204.66 L74.61 204.50 L74.87 204.34 L75.13 204.19 L75.38 204.05 L75.64 203.92 L75.90 203.79 L76.16 203.67 L76.41 203.55 L76.67 203.44 L76.93 203.34 L77.19 203.24 L77.44 203.15 L77.70 203.07 L77.96 202.99 L78.21 202.92 L78.47 202.85 L78.73 202.79 L78.99 202.74 L79.24 202.69 L79.50 202.64 L79.76 202.60 L80.02 202.57 L80.27 202.54 L80.53 202.51 L80.79 202.49 L81.04 202.48 L81.30 202.46 L81.56 202.46 L81.82 202.45 L82.07 202.46 L82.33 202.46 L82.59 202.47 L82.84 202.49 L83.10 202.50 L83.36 202.53 L83.62 202.55 L83.87 202.58 L84.13 202.61 L84.39 202.65 L84.65 202.69 L84.90 202.73 L85.16 202.78 L85.42 202.83 L85.67 202.88 L85.93 202.94 L86.19 203.00 L86.45 203.06 L86.70 203.12 L86.96 203.19 L87.22 203.26 L87.48 203.34 L87.73 203.41 L87.99 203.49 L88.25 203.58 L88.50 203.66 L88.76 203.75 L89.02 203.84 L89.28 203.93 L89.53 204.02 L89.79 204.12 L90.05 204.22 L90.31 204.32 L90.56 204.43 L90.82 204.53 L91.08 204.64 L91.33 204.75 L91.59 204.86 L91.85 204.98 L92.11 205.09 L92.36 205.21 L92.62 205.33 L92.88 205.46 L93.13 205.58 L93.39 205.71 L93.65 205.84 L93.91 205.97 L94.16 206.10 L94.42 206.23 L94.68 206.37 L94.94 206.50 L95.19 206.64 L95.45 206.78 L95.71 206.92 L95.96 207.06 L96.22 207.21 L96.48 207.36 L96.74 207.50 L96.99 207.65 L97.25 207.80 L97.51 207.95 L97.77 208.11 L98.02 208.26 L98.28 208.42 L98.54 208.58 L98.79 208.74 L99.05 208.89 L99.31 209.06 L99.57 209.22 L99.82 209.38 L100.08 209.55 L100.34 209.71 L100.59 209.88 L100.85 210.05 L101.11 210.22 L101.37 210.39 L101.62 210.56 L101.88 210.73 L102.14 210.91 L102.40 211.08 L102.65 211.26 L102.91 211.43 L103.17 211.61 L103.42 211.79 L103.68 211.97 L103.94 212.15 L104.20 212.33 L104.45 212.52 L104.71 212.70 L104.97 212.89 L105.23 213.07 L105.48 213.26 L105.74 213.44 L106.00 213.63 L106.25 213.82 L106.51 214.01 L106.77 214.20 L107.03 214.39 L107.28 214.59 L107.54 214.78 L107.80 214.97 L108.06 215.17 L108.31 215.36 L108.57 215.56 L108.83 215.76 L109.08 215.95 L109.34 216.15 L109.60 216.35 L109.86 216.55 L110.11 216.75 L110.37 216.95 L110.63 217.15 L110.89 217.36 L111.14 217.56 L111.40 217.76 L111.66 217.97 L111.91 218.17 L112.17 218.38 L112.43 218.59 L112.69 218.79 L112.94 219.00 L113.20 219.21 L113.46 219.42 L113.71 219.63 L113.97 219.84 L114.23 220.05 L114.49 220.26 L114.74 220.47 L115.00 220.68 L115.26 220.90 L115.52 221.11 L115.77 221.32 L116.03 221.54 L116.29 221.75 L116.54 221.97 L116.80 222.19 L117.06 222.40 L117.32 222.62 L117.57 222.84 L117.83 223.06 L118.09 223.28 L118.35 223.50 L118.60 223.72 L118.86 223.94 L119.12 224.16 L119.37 224.38 L119.63 224.60 L119.89 224.82 L120.15 225.05 L120.40 225.27 L120.66 225.49 L120.92 225.72 L121.18 225.94 L121.43 226.17 L121.69 226.39 L121.95 226.62 L122.20 226.85 L122.46 227.08 L122.72 227.30 L122.98 227.53 L123.23 227.76 L123.49 227.99 L123.75 228.22 L124.00 228.45 L124.26 228.68 L124.52 228.91 L124.78 229.14 L125.03 229.37 L125.29 229.61 L125.55 229.84 L125.81 230.07 L126.06 230.30 L126.32 230.54 L126.58 230.77 L126.83 231.01 L127.09 231.24 L127.35 231.48 L127.61 231.71 L127.86 231.95 L128.12 232.19 L128.38 232.43 L128.64 232.66 L128.89 232.90 L129.15 233.14 L129.41 233.38 L129.66 233.62 L129.92 233.86 L130.18 234.10 L130.44 234.34 L130.69 234.58 L130.95 234.82 L131.21 235.06 L131.47 235.31 L131.72 235.55 L131.98 235.79 L132.24 236.04 L132.49 236.28 L132.75 236.53 L133.01 236.77 L133.27 237.02 L133.52 237.26 L133.78 237.51 L134.04 237.75 L134.29 238.00 L134.55 238.25 L134.81 238.50 L135.07 238.74 L135.32 238.99 L135.58 239.24 L135.84 239.49 L136.10 239.74 L136.35 239.99 L136.61 240.24 L136.87 240.49 L137.12 240.74 L137.38 241.00 L137.64 241.25 L137.90 241.50 L138.15 241.75 L138.41 242.01 L138.67 242.26 L138.93 242.52 L139.18 242.77 L139.44 243.03 L139.70 243.28 L139.95 243.54 L140.21 243.79 L140.47 244.05 L140.73 244.31 L140.98 244.56 L141.24 244.82 L141.50 245.08 L141.75 245.34 L142.01 245.60 L142.27 245.86 L142.53 246.12 L142.78 246.38 L143.04 246.64 L143.30 246.90 L143.56 247.16 L143.81 247.43 L144.07 247.69 L144.33 247.95 L144.58 248.22 L144.84 248.48 L145.10 248.75 L145.36 249.01 L145.61 249.28 L145.87 249.54 L146.13 249.81 L146.39 250.08 L146.64 250.34 L146.90 250.61 L147.16 250.88 L147.41 251.15 L147.67 251.42 L147.93 251.69 L148.19 251.96 L148.44 252.23 L148.70 252.50 L148.96 252.77 L149.22 253.04 L149.47 253.31 L149.73 253.59 L149.99 253.86 L150.24 254.13 L150.50 254.41 L150.76 254.68 L151.02 254.96 L151.27 255.23 L151.53 255.51 L151.79 255.78 L152.05 256.06 L152.30 256.34 L152.56 256.62 L152.82 256.90 L153.07 257.17 L153.33 257.45 L153.59 257.73 L153.85 258.01 L154.10 258.30 L154.36 258.58 L154.62 258.86 L154.87 259.14 L155.13 259.43 L155.39 259.71 L155.65 259.99 L155.90 260.28 L156.16 260.56 L156.42 260.85 L156.68 261.13 L156.93 261.42 L157.19 261.71 L157.45 262.00 L157.70 262.28 L157.96 262.57 L158.22 262.86 L158.48 263.15 L158.73 263.44 L158.99 263.73 L159.25 264.03 L159.51 264.32 L159.76 264.61 L160.02 264.90 L160.28 265.20 L160.53 265.49 L160.79 265.79 L161.05 266.08 L161.31 266.38 L161.56 266.68 L161.82 266.97 L162.08 267.27 L162.34 267.57 L162.59 267.87 L162.85 268.17 L163.11 268.47 L163.36 268.77 L163.62 269.07 L163.88 269.38 L164.14 269.68 L164.39 269.98 L164.65 270.29 L164.91 270.59 L165.16 270.90 L165.42 271.20 L165.68 271.51 L165.94 271.82 L166.19 272.12 L166.45 272.43 L166.71 272.74 L166.97 273.05 L167.22 273.36 L167.48 273.67 L167.74 273.98 L167.99 274.30 L168.25 274.61 L168.51 274.92 L168.77 275.24 L169.02 275.55 L169.28 275.87 L169.54 276.18 L169.80 276.50 L170.05 276.82 L170.31 277.14 L170.57 277.46 L170.82 277.78 L171.08 278.10 L171.34 278.42 L171.60 278.74 L171.85 279.06 L172.11 279.39 L172.37 279.71 L172.62 280.04 L172.88 280.36 L173.14 280.69 L173.40 281.02 L173.65 281.35 L173.91 281.67 L174.17 282.00 L174.43 282.33 L174.68 282.67 L174.94 283.00 L175.20 283.33 L175.45 283.66 L175.71 284.00 L175.97 284.33 L176.23 284.67 L176.48 285.00 L176.74 285.34 L177.00 285.68 L177.26 286.02 L177.51 286.36 L177.77 286.70 L178.03 287.04 L178.28 287.38 L178.54 287.73 L178.80 288.07 L179.06 288.42 L179.31 288.76 L179.57 289.11 L179.83 289.45 L180.09 289.80 L180.34 290.15 L180.60 290.50 L180.86 290.85 L181.11 291.20 L181.37 291.56 L181.63 291.91 L181.89 292.26 L182.14 292.62 L182.40 292.98 L182.66 293.33 L182.92 293.69 L183.17 294.05 L183.43 294.41 L183.69 294.77 L183.94 295.13 L184.20 295.49 L184.46 295.86 L184.72 296.22 L184.97 296.59 L185.23 296.95 L185.49 297.32 L185.74 297.69 L186.00 298.06 L186.26 298.43 L186.52 298.80 L186.77 299.17 L187.03 299.55 L187.29 299.92 L187.55 300.30 L187.80 300.67 L188.06 301.05 L188.32 301.43 L188.57 301.81 L188.83 302.19 L189.09 302.57 L189.35 302.95 L189.60 303.33 L189.86 303.72 L190.12 304.10 L190.38 304.49 L190.63 304.88 L190.89 305.27 L191.15 305.65 L191.40 306.05 L191.66 306.44 L191.92 306.83 L192.18 307.22 L192.43 307.62 L192.69 308.01 L192.95 308.41 L193.21 308.81 L193.46 309.21 L193.72 309.61 L193.98 310.01 L194.23 310.41 L194.49 310.82 L194.75 311.22 L195.01 311.63 L195.26 312.03 L195.52 312.44 L195.78 312.85 L196.03 313.26 L196.29 313.67 L196.55 314.08 L196.81 314.50 L197.06 314.91 L197.32 315.33 L197.58 315.75 L197.84 316.16 L198.09 316.58 L198.35 317.00 L198.61 317.42 L198.86 317.85 L199.12 318.27 L199.38 318.70 L199.64 319.12 L199.89 319.55 L200.15 319.98 L200.41 320.41 L200.67 320.84 L200.92 321.27 L201.18 321.70 L201.44 322.13 L201.69 322.57 L201.95 323.01 L202.21 323.44 L202.47 323.88 L202.72 324.32 L202.98 324.76 L203.24 325.20 L203.50 325.65 L203.75 326.09 L204.01 326.53 L204.27 326.98 L204.52 327.43 L204.78 327.88 L205.04 328.32 L205.30 328.78 L205.55 329.23 L205.81 329.68 L206.07 330.13 L206.32 330.59 L206.58 331.04 L206.84 331.50 L207.10 331.96 L207.35 332.41 L207.61 332.87 L207.87 333.33 L208.13 333.79 L208.38 334.26 L208.64 334.72 L208.90 335.18 L209.15 335.65 L209.41 336.11 L209.67 336.58 L209.93 337.05 L210.18 337.51 L210.44 337.98 L210.70 338.45 L210.96 338.92 L211.21 339.39 L211.47 339.86 L211.73 340.34 L211.98 340.81 L212.24 341.28 L212.50 341.75 L212.76 342.23 L213.01 342.70 L213.27 343.18 L213.53 343.65 L213.79 344.13 L214.04 344.60 L214.30 345.08 L214.56 345.56 L214.81 346.03 L215.07 346.51 L215.33 346.99 L215.59 347.46 L215.84 347.94 L216.10 348.41 L216.36 348.89 L216.61 349.37 L216.87 349.84 L217.13 350.32 L217.39 350.79 L217.64 351.27 L217.90 351.74 L218.16 352.21 L218.42 352.68 L218.67 353.15 L218.93 353.62 L219.19 354.09 L219.44 354.56 L219.70 355.03 L219.96 355.49 L220.22 355.96 L220.47 356.42 L220.73 356.88 L220.99 357.34 L221.25 357.79 L221.50 358.25 L221.76 358.70 L222.02 359.15 L222.27 359.60 L222.53 360.04 L222.79 360.49 L223.05 360.93 L223.30 361.36 L223.56 361.79 L223.82 362.22 L224.08 362.65 L224.33 363.07 L224.59 363.49 L224.85 363.90 L225.10 364.31 L225.36 364.71 L225.62 365.11 L225.88 365.51 L226.13 365.90 L226.39 366.28 L226.65 366.66 L226.90 367.03 L227.16 367.39 L227.42 367.75 L227.68 368.10 L227.93 368.45 L228.19 368.78 L228.45 369.11 L228.71 369.43 L228.96 369.74 L229.22 370.05 L229.48 370.34 L229.73 370.63 L229.99 370.90 L230.25 371.16 L230.51 371.42 L230.76 371.66 L231.02 371.89 L231.28 372.11 L231.54 372.31 L231.79 372.51 L232.05 372.69 L232.31 372.85 L232.56 373.00 L232.82 373.14 L233.08 373.26 L233.34 373.37 L233.59 373.46 L233.85 373.53 L234.11 373.59 L234.37 373.63 L234.62 373.65 L234.88 373.65 L235.14 373.63 L235.39 373.59 L235.65 373.53 L235.91 373.45 L236.17 373.35 L236.42 373.22 L236.68 373.07 L236.94 372.90 L237.19 372.71 L237.45 372.49 L237.71 372.24 L237.97 371.97 L238.22 371.67 L238.48 371.35 L238.74 371.00 L239.00 370.62 L239.25 370.21 L239.51 369.77 L239.77 369.30 L240.02 368.80 L240.28 368.27 L240.54 367.71 L240.80 367.12 L241.05 366.49 L241.31 365.84 L241.57 365.15 L241.83 364.43 L242.08 363.67 L242.34 362.88 L242.60 362.06 L242.85 361.20 L243.11 360.31 L243.37 359.38 L243.63 358.42 L243.88 357.43 L244.14 356.40 L244.40 355.34 L244.66 354.24 L244.91 353.11 L245.17 351.95 L245.43 350.75 L245.68 349.52 L245.94 348.26 L246.20 346.96 L246.46 345.64 L246.71 344.28 L246.97 342.90 L247.23 341.48 L247.48 340.04 L247.74 338.57 L248.00 337.07 L248.26 335.54 L248.51 333.99 L248.77 332.42 L249.03 330.83 L249.29 329.21 L249.54 327.57 L249.80 325.92 L250.06 324.24 L250.31 322.55 L250.57 320.84 L250.83 319.12 L251.09 317.39 L251.34 315.64 L251.60 313.89 L251.86 312.13 L252.12 310.36 L252.37 308.58 L252.63 306.80 L252.89 305.01 L253.14 303.22 L253.40 301.44 L253.66 299.65 L253.92 297.87 L254.17 296.08 L254.43 294.31 L254.69 292.54 L254.94 290.77 L255.20 289.01 L255.46 287.27 L255.72 285.53 L255.97 283.80 L256.23 282.09 L256.49 280.39 L256.75 278.70 L257.00 277.03 L257.26 275.37 L257.52 273.73 L257.77 272.10 L258.03 270.50 L258.29 268.91 L258.55 267.34 L258.80 265.79 L259.06 264.26 L259.32 262.75 L259.58 261.26 L259.83 259.79 L260.09 258.35 L260.35 256.92 L260.60 255.52 L260.86 254.14 L261.12 252.78 L261.38 251.45 L261.63 250.13 L261.89 248.84 L262.15 247.58 L262.41 246.33 L262.66 245.11 L262.92 243.91 L263.18 242.74 L263.43 241.58 L263.69 240.45 L263.95 239.34 L264.21 238.26 L264.46 237.19 L264.72 236.15 L264.98 235.13 L265.24 234.13 L265.49 233.16 L265.75 232.20 L266.01 231.27 L266.26 230.35 L266.52 229.46 L266.78 228.59 L267.04 227.74 L267.29 226.91 L267.55 226.09 L267.81 225.30 L268.06 224.52 L268.32 223.77 L268.58 223.03 L268.84 222.31 L269.09 221.61 L269.35 220.93 L269.61 220.26 L269.87 219.61 L270.12 218.98 L270.38 218.37 L270.64 217.77 L270.89 217.18 L271.15 216.62 L271.41 216.06 L271.67 215.53 L271.92 215.01 L272.18 214.50 L272.44 214.00 L272.70 213.53 L272.95 213.06 L273.21 212.61 L273.47 212.17 L273.72 211.74 L273.98 211.33 L274.24 210.93 L274.50 210.54 L274.75 210.17 L275.01 209.80 L275.27 209.45 L275.52 209.11 L275.78 208.78 L276.04 208.46 L276.30 208.15 L276.55 207.85 L276.81 207.56 L277.07 207.29 L277.33 207.02 L277.58 206.76 L277.84 206.51 L278.10 206.27 L278.35 206.04 L278.61 205.82 L278.87 205.61 L279.13 205.40 L279.38 205.20 L279.64 205.02 L279.90 204.84 L280.16 204.66 L280.41 204.50 L280.67 204.34 L280.93 204.19 L281.18 204.05 L281.44 203.92 L281.70 203.79 L281.96 203.67 L282.21 203.55 L282.47 203.44 L282.73 203.34 L282.99 203.24 L283.24 203.15 L283.50 203.07 L283.76 202.99 L284.01 202.92 L284.27 202.85 L284.53 202.79 L284.79 202.74 L285.04 202.69 L285.30 202.64 L285.56 202.60 L285.82 202.57 L286.07 202.54 L286.33 202.51 L286.59 202.49 L286.84 202.48 L287.10 202.46 L287.36 202.46 L287.62 202.45 L287.87 202.46 L288.13 202.46 L288.39 202.47 L288.64 202.49 L288.90 202.50 L289.16 202.53 L289.42 202.55 L289.67 202.58 L289.93 202.61 L290.19 202.65 L290.45 202.69 L290.70 202.73 L290.96 202.78 L291.22 202.83 L291.47 202.88 L291.73 202.94 L291.99 203.00 L292.25 203.06 L292.50 203.12 L292.76 203.19 L293.02 203.26 L293.28 203.34 L293.53 203.41 L293.79 203.49 L294.05 203.58 L294.30 203.66 L294.56 203.75 L294.82 203.84 L295.08 203.93 L295.33 204.02 L295.59 204.12 L295.85 204.22 L296.11 204.32 L296.36 204.43 L296.62 204.53 L296.88 204.64 L297.13 204.75 L297.39 204.86 L297.65 204.98 L297.91 205.09 L298.16 205.21 L298.42 205.33 L298.68 205.46 L298.93 205.58 L299.19 205.71 L299.45 205.84 L299.71 205.97 L299.96 206.10 L300.22 206.23 L300.48 206.37 L300.74 206.50 L300.99 206.64 L301.25 206.78 L301.51 206.92 L301.76 207.06 L302.02 207.21 L302.28 207.36 L302.54 207.50 L302.79 207.65 L303.05 207.80 L303.31 207.95 L303.57 208.11 L303.82 208.26 L304.08 208.42 L304.34 208.58 L304.59 208.74 L304.85 208.89 L305.11 209.06 L305.37 209.22 L305.62 209.38 L305.88 209.55 L306.14 209.71 L306.40 209.88 L306.65 210.05 L306.91 210.22 L307.17 210.39 L307.42 210.56 L307.68 210.73 L307.94 210.91 L308.20 211.08 L308.45 211.26 L308.71 211.43 L308.97 211.61 L309.22 211.79 L309.48 211.97 L309.74 212.15 L310.00 212.33 L310.25 212.52 L310.51 212.70 L310.77 212.89 L311.03 213.07 L311.28 213.26 L311.54 213.44 L311.80 213.63 L312.05 213.82 L312.31 214.01 L312.57 214.20 L312.83 214.39 L313.08 214.59 L313.34 214.78 L313.60 214.97 L313.86 215.17 L314.11 215.36 L314.37 215.56 L314.63 215.76 L314.88 215.95 L315.14 216.15 L315.40 216.35 L315.66 216.55 L315.91 216.75 L316.17 216.95 L316.43 217.15 L316.69 217.36 L316.94 217.56 L317.20 217.76 L317.46 217.97 L317.71 218.17 L317.97 218.38 L318.23 218.59 L318.49 218.79 L318.74 219.00 L319.00 219.21 L319.26 219.42 L319.51 219.63 L319.77 219.84 L320.03 220.05 L320.29 220.26 L320.54 220.47 L320.80 220.68 L321.06 220.90 L321.32 221.11 L321.57 221.32 L321.83 221.54 L322.09 221.75 L322.34 221.97 L322.60 222.19 L322.86 222.40 L323.12 222.62 L323.37 222.84 L323.63 223.06 L323.89 223.28 L324.15 223.50 L324.40 223.72 L324.66 223.94 L324.92 224.16 L325.17 224.38 L325.43 224.60 L325.69 224.82 L325.95 225.05 L326.20 225.27 L326.46 225.49 L326.72 225.72 L326.98 225.94 L327.23 226.17 L327.49 226.39 L327.75 226.62 L328.00 226.85 L328.26 227.08 L328.52 227.30 L328.78 227.53 L329.03 227.76 L329.29 227.99 L329.55 228.22 L329.80 228.45 L330.06 228.68 L330.32 228.91 L330.58 229.14 L330.83 229.37 L331.09 229.61 L331.35 229.84 L331.61 230.07 L331.86 230.30 L332.12 230.54 L332.38 230.77 L332.63 231.01 L332.89 231.24 L333.15 231.48 L333.41 231.71 L333.66 231.95 L333.92 232.19 L334.18 232.43 L334.44 232.66 L334.69 232.90 L334.95 233.14 L335.21 233.38 L335.46 233.62 L335.72 233.86 L335.98 234.10 L336.24 234.34 L336.49 234.58 L336.75 234.82 L337.01 235.06 L337.27 235.31 L337.52 235.55 L337.78 235.79 L338.04 236.04 L338.29 236.28 L338.55 236.53 L338.81 236.77 L339.07 237.02 L339.32 237.26 L339.58 237.51 L339.84 237.75 L340.09 238.00 L340.35 238.25 L340.61 238.50 L340.87 238.74 L341.12 238.99 L341.38 239.24 L341.64 239.49 L341.90 239.74 L342.15 239.99 L342.41 240.24 L342.67 240.49 L342.92 240.74 L343.18 241.00 L343.44 241.25 L343.70 241.50 L343.95 241.75 L344.21 242.01 L344.47 242.26 L344.73 242.52 L344.98 242.77 L345.24 243.03 L345.50 243.28 L345.75 243.54 L346.01 243.79 L346.27 244.05 L346.53 244.31 L346.78 244.56 L347.04 244.82 L347.30 245.08 L347.56 245.34 L347.81 245.60 L348.07 245.86 L348.33 246.12 L348.58 246.38 L348.84 246.64 L349.10 246.90 L349.36 247.16 L349.61 247.43 L349.87 247.69 L350.13 247.95 L350.38 248.22 L350.64 248.48 L350.90 248.75 L351.16 249.01 L351.41 249.28 L351.67 249.54 L351.93 249.81 L352.19 250.08 L352.44 250.34 L352.70 250.61" stroke="#2c2cc8" stroke-width="0.95" fill="none" stroke-dasharray="3.6 3.8"/>
<path d="M44.00 240.26 L44.26 241.25 L44.51 242.24 L44.77 243.25 L45.03 244.27 L45.29 245.29 L45.54 246.32 L45.80 247.36 L46.06 248.40 L46.32 249.45 L46.57 250.49 L46.83 251.55 L47.09 252.60 L47.34 253.66 L47.60 254.71 L47.86 255.77 L48.12 256.82 L48.37 257.87 L48.63 258.92 L48.89 259.97 L49.15 261.01 L49.40 262.05 L49.66 263.08 L49.92 264.11 L50.17 265.13 L50.43 266.14 L50.69 267.14 L50.95 268.14 L51.20 269.13 L51.46 270.11 L51.72 271.07 L51.97 272.03 L52.23 272.98 L52.49 273.92 L52.75 274.85 L53.00 275.76 L53.26 276.67 L53.52 277.56 L53.78 278.44 L54.03 279.30 L54.29 280.16 L54.55 281.00 L54.80 281.83 L55.06 282.64 L55.32 283.44 L55.58 284.23 L55.83 285.01 L56.09 285.77 L56.35 286.52 L56.61 287.25 L56.86 287.97 L57.12 288.68 L57.38 289.38 L57.63 290.06 L57.89 290.72 L58.15 291.38 L58.41 292.02 L58.66 292.65 L58.92 293.26 L59.18 293.87 L59.44 294.46 L59.69 295.03 L59.95 295.60 L60.21 296.15 L60.46 296.69 L60.72 297.21 L60.98 297.73 L61.24 298.23 L61.49 298.72 L61.75 299.20 L62.01 299.67 L62.26 300.13 L62.52 300.58 L62.78 301.01 L63.04 301.44 L63.29 301.85 L63.55 302.25 L63.81 302.65 L64.07 303.03 L64.32 303.40 L64.58 303.77 L64.84 304.12 L65.09 304.46 L65.35 304.80 L65.61 305.13 L65.87 305.44 L66.12 305.75 L66.38 306.05 L66.64 306.34 L66.90 306.63 L67.15 306.90 L67.41 307.17 L67.67 307.43 L67.92 307.68 L68.18 307.92 L68.44 308.16 L68.70 308.39 L68.95 308.61 L69.21 308.82 L69.47 309.03 L69.72 309.23 L69.98 309.43 L70.24 309.62 L70.50 309.80 L70.75 309.98 L71.01 310.15 L71.27 310.31 L71.53 310.47 L71.78 310.62 L72.04 310.77 L72.30 310.91 L72.55 311.05 L72.81 311.18 L73.07 311.30 L73.33 311.42 L73.58 311.54 L73.84 311.65 L74.10 311.76 L74.36 311.86 L74.61 311.96 L74.87 312.05 L75.13 312.14 L75.38 312.22 L75.64 312.30 L75.90 312.38 L76.16 312.45 L76.41 312.52 L76.67 312.58 L76.93 312.64 L77.19 312.70 L77.44 312.75 L77.70 312.80 L77.96 312.85 L78.21 312.89 L78.47 312.93 L78.73 312.96 L78.99 313.00 L79.24 313.03 L79.50 313.05 L79.76 313.08 L80.02 313.10 L80.27 313.11 L80.53 313.13 L80.79 313.14 L81.04 313.15 L81.30 313.16 L81.56 313.16 L81.82 313.16 L82.07 313.16 L82.33 313.16 L82.59 313.15 L82.84 313.14 L83.10 313.13 L83.36 313.12 L83.62 313.11 L83.87 313.09 L84.13 313.07 L84.39 313.05 L84.65 313.03 L84.90 313.00 L85.16 312.97 L85.42 312.94 L85.67 312.91 L85.93 312.88 L86.19 312.84 L86.45 312.81 L86.70 312.77 L86.96 312.73 L87.22 312.69 L87.48 312.64 L87.73 312.60 L87.99 312.55 L88.25 312.50 L88.50 312.45 L88.76 312.40 L89.02 312.35 L89.28 312.29 L89.53 312.24 L89.79 312.18 L90.05 312.12 L90.31 312.06 L90.56 312.00 L90.82 311.94 L91.08 311.87 L91.33 311.81 L91.59 311.74 L91.85 311.67 L92.11 311.60 L92.36 311.53 L92.62 311.46 L92.88 311.39 L93.13 311.32 L93.39 311.24 L93.65 311.17 L93.91 311.09 L94.16 311.01 L94.42 310.93 L94.68 310.85 L94.94 310.77 L95.19 310.69 L95.45 310.61 L95.71 310.53 L95.96 310.44 L96.22 310.36 L96.48 310.27 L96.74 310.18 L96.99 310.09 L97.25 310.00 L97.51 309.92 L97.77 309.82 L98.02 309.73 L98.28 309.64 L98.54 309.55 L98.79 309.45 L99.05 309.36 L99.31 309.26 L99.57 309.17 L99.82 309.07 L100.08 308.97 L100.34 308.88 L100.59 308.78 L100.85 308.68 L101.11 308.58 L101.37 308.48 L101.62 308.38 L101.88 308.27 L102.14 308.17 L102.40 308.07 L102.65 307.96 L102.91 307.86 L103.17 307.75 L103.42 307.65 L103.68 307.54 L103.94 307.44 L104.20 307.33 L104.45 307.22 L104.71 307.11 L104.97 307.00 L105.23 306.89 L105.48 306.78 L105.74 306.67 L106.00 306.56 L106.25 306.45 L106.51 306.34 L106.77 306.23 L107.03 306.11 L107.28 306.00 L107.54 305.89 L107.80 305.77 L108.06 305.66 L108.31 305.54 L108.57 305.42 L108.83 305.31 L109.08 305.19 L109.34 305.07 L109.60 304.96 L109.86 304.84 L110.11 304.72 L110.37 304.60 L110.63 304.48 L110.89 304.36 L111.14 304.24 L111.40 304.12 L111.66 304.00 L111.91 303.88 L112.17 303.76 L112.43 303.64 L112.69 303.52 L112.94 303.39 L113.20 303.27 L113.46 303.15 L113.71 303.02 L113.97 302.90 L114.23 302.77 L114.49 302.65 L114.74 302.52 L115.00 302.40 L115.26 302.27 L115.52 302.15 L115.77 302.02 L116.03 301.89 L116.29 301.77 L116.54 301.64 L116.80 301.51 L117.06 301.38 L117.32 301.25 L117.57 301.13 L117.83 301.00 L118.09 300.87 L118.35 300.74 L118.60 300.61 L118.86 300.48 L119.12 300.35 L119.37 300.22 L119.63 300.09 L119.89 299.95 L120.15 299.82 L120.40 299.69 L120.66 299.56 L120.92 299.43 L121.18 299.29 L121.43 299.16 L121.69 299.03 L121.95 298.89 L122.20 298.76 L122.46 298.62 L122.72 298.49 L122.98 298.35 L123.23 298.22 L123.49 298.08 L123.75 297.95 L124.00 297.81 L124.26 297.68 L124.52 297.54 L124.78 297.40 L125.03 297.27 L125.29 297.13 L125.55 296.99 L125.81 296.85 L126.06 296.72 L126.32 296.58 L126.58 296.44 L126.83 296.30 L127.09 296.16 L127.35 296.02 L127.61 295.88 L127.86 295.74 L128.12 295.60 L128.38 295.46 L128.64 295.32 L128.89 295.18 L129.15 295.04 L129.41 294.90 L129.66 294.76 L129.92 294.62 L130.18 294.48 L130.44 294.33 L130.69 294.19 L130.95 294.05 L131.21 293.91 L131.47 293.76 L131.72 293.62 L131.98 293.48 L132.24 293.33 L132.49 293.19 L132.75 293.04 L133.01 292.90 L133.27 292.75 L133.52 292.61 L133.78 292.46 L134.04 292.32 L134.29 292.17 L134.55 292.03 L134.81 291.88 L135.07 291.73 L135.32 291.59 L135.58 291.44 L135.84 291.29 L136.10 291.14 L136.35 291.00 L136.61 290.85 L136.87 290.70 L137.12 290.55 L137.38 290.40 L137.64 290.25 L137.90 290.11 L138.15 289.96 L138.41 289.81 L138.67 289.66 L138.93 289.51 L139.18 289.36 L139.44 289.21 L139.70 289.05 L139.95 288.90 L140.21 288.75 L140.47 288.60 L140.73 288.45 L140.98 288.30 L141.24 288.14 L141.50 287.99 L141.75 287.84 L142.01 287.68 L142.27 287.53 L142.53 287.38 L142.78 287.22 L143.04 287.07 L143.30 286.92 L143.56 286.76 L143.81 286.61 L144.07 286.45 L144.33 286.30 L144.58 286.14 L144.84 285.98 L145.10 285.83 L145.36 285.67 L145.61 285.51 L145.87 285.36 L146.13 285.20 L146.39 285.04 L146.64 284.88 L146.90 284.73 L147.16 284.57 L147.41 284.41 L147.67 284.25 L147.93 284.09 L148.19 283.93 L148.44 283.77 L148.70 283.61 L148.96 283.45 L149.22 283.29 L149.47 283.13 L149.73 282.97 L149.99 282.81 L150.24 282.65 L150.50 282.48 L150.76 282.32 L151.02 282.16 L151.27 282.00 L151.53 281.83 L151.79 281.67 L152.05 281.51 L152.30 281.34 L152.56 281.18 L152.82 281.01 L153.07 280.85 L153.33 280.68 L153.59 280.52 L153.85 280.35 L154.10 280.19 L154.36 280.02 L154.62 279.85 L154.87 279.69 L155.13 279.52 L155.39 279.35 L155.65 279.19 L155.90 279.02 L156.16 278.85 L156.42 278.68 L156.68 278.51 L156.93 278.34 L157.19 278.17 L157.45 278.00 L157.70 277.83 L157.96 277.66 L158.22 277.49 L158.48 277.32 L158.73 277.15 L158.99 276.98 L159.25 276.80 L159.51 276.63 L159.76 276.46 L160.02 276.28 L160.28 276.11 L160.53 275.94 L160.79 275.76 L161.05 275.59 L161.31 275.41 L161.56 275.24 L161.82 275.06 L162.08 274.89 L162.34 274.71 L162.59 274.53 L162.85 274.36 L163.11 274.18 L163.36 274.00 L163.62 273.82 L163.88 273.64 L164.14 273.47 L164.39 273.29 L164.65 273.11 L164.91 272.93 L165.16 272.75 L165.42 272.57 L165.68 272.39 L165.94 272.20 L166.19 272.02 L166.45 271.84 L166.71 271.66 L166.97 271.47 L167.22 271.29 L167.48 271.11 L167.74 270.92 L167.99 270.74 L168.25 270.55 L168.51 270.37 L168.77 270.18 L169.02 270.00 L169.28 269.81 L169.54 269.62 L169.80 269.44 L170.05 269.25 L170.31 269.06 L170.57 268.87 L170.82 268.68 L171.08 268.49 L171.34 268.30 L171.60 268.11 L171.85 267.92 L172.11 267.73 L172.37 267.54 L172.62 267.35 L172.88 267.16 L173.14 266.96 L173.40 266.77 L173.65 266.58 L173.91 266.38 L174.17 266.19 L174.43 265.99 L174.68 265.80 L174.94 265.60 L175.20 265.40 L175.45 265.21 L175.71 265.01 L175.97 264.81 L176.23 264.61 L176.48 264.42 L176.74 264.22 L177.00 264.02 L177.26 263.82 L177.51 263.62 L177.77 263.41 L178.03 263.21 L178.28 263.01 L178.54 262.81 L178.80 262.60 L179.06 262.40 L179.31 262.20 L179.57 261.99 L179.83 261.79 L180.09 261.58 L180.34 261.38 L180.60 261.17 L180.86 260.96 L181.11 260.75 L181.37 260.55 L181.63 260.34 L181.89 260.13 L182.14 259.92 L182.40 259.71 L182.66 259.50 L182.92 259.29 L183.17 259.07 L183.43 258.86 L183.69 258.65 L183.94 258.43 L184.20 258.22 L184.46 258.01 L184.72 257.79 L184.97 257.57 L185.23 257.36 L185.49 257.14 L185.74 256.92 L186.00 256.71 L186.26 256.49 L186.52 256.27 L186.77 256.05 L187.03 255.83 L187.29 255.61 L187.55 255.39 L187.80 255.16 L188.06 254.94 L188.32 254.72 L188.57 254.49 L188.83 254.27 L189.09 254.04 L189.35 253.82 L189.60 253.59 L189.86 253.37 L190.12 253.14 L190.38 252.91 L190.63 252.68 L190.89 252.45 L191.15 252.22 L191.40 251.99 L191.66 251.76 L191.92 251.53 L192.18 251.29 L192.43 251.06 L192.69 250.83 L192.95 250.59 L193.21 250.36 L193.46 250.12 L193.72 249.89 L193.98 249.65 L194.23 249.41 L194.49 249.17 L194.75 248.93 L195.01 248.69 L195.26 248.45 L195.52 248.21 L195.78 247.97 L196.03 247.73 L196.29 247.49 L196.55 247.24 L196.81 247.00 L197.06 246.75 L197.32 246.51 L197.58 246.26 L197.84 246.02 L198.09 245.77 L198.35 245.52 L198.61 245.27 L198.86 245.02 L199.12 244.77 L199.38 244.52 L199.64 244.27 L199.89 244.02 L200.15 243.76 L200.41 243.51 L200.67 243.26 L200.92 243.00 L201.18 242.75 L201.44 242.49 L201.69 242.23 L201.95 241.97 L202.21 241.72 L202.47 241.46 L202.72 241.20 L202.98 240.94 L203.24 240.68 L203.50 240.42 L203.75 240.15 L204.01 239.89 L204.27 239.63 L204.52 239.36 L204.78 239.10 L205.04 238.83 L205.30 238.57 L205.55 238.30 L205.81 238.03 L206.07 237.77 L206.32 237.50 L206.58 237.23 L206.84 236.96 L207.10 236.69 L207.35 236.42 L207.61 236.15 L207.87 235.88 L208.13 235.60 L208.38 235.33 L208.64 235.06 L208.90 234.78 L209.15 234.51 L209.41 234.23 L209.67 233.96 L209.93 233.68 L210.18 233.41 L210.44 233.13 L210.70 232.85 L210.96 232.58 L211.21 232.30 L211.47 232.02 L211.73 231.74 L211.98 231.46 L212.24 231.18 L212.50 230.90 L212.76 230.62 L213.01 230.34 L213.27 230.06 L213.53 229.78 L213.79 229.50 L214.04 229.22 L214.30 228.94 L214.56 228.66 L214.81 228.38 L215.07 228.10 L215.33 227.81 L215.59 227.53 L215.84 227.25 L216.10 226.97 L216.36 226.69 L216.61 226.41 L216.87 226.13 L217.13 225.85 L217.39 225.57 L217.64 225.29 L217.90 225.01 L218.16 224.73 L218.42 224.45 L218.67 224.17 L218.93 223.89 L219.19 223.62 L219.44 223.34 L219.70 223.07 L219.96 222.79 L220.22 222.52 L220.47 222.24 L220.73 221.97 L220.99 221.70 L221.25 221.43 L221.50 221.16 L221.76 220.90 L222.02 220.63 L222.27 220.37 L222.53 220.10 L222.79 219.84 L223.05 219.58 L223.30 219.33 L223.56 219.07 L223.82 218.82 L224.08 218.56 L224.33 218.32 L224.59 218.07 L224.85 217.83 L225.10 217.58 L225.36 217.34 L225.62 217.11 L225.88 216.88 L226.13 216.65 L226.39 216.42 L226.65 216.20 L226.90 215.98 L227.16 215.76 L227.42 215.55 L227.68 215.34 L227.93 215.14 L228.19 214.94 L228.45 214.75 L228.71 214.56 L228.96 214.37 L229.22 214.20 L229.48 214.02 L229.73 213.85 L229.99 213.69 L230.25 213.54 L230.51 213.39 L230.76 213.24 L231.02 213.11 L231.28 212.98 L231.54 212.86 L231.79 212.74 L232.05 212.64 L232.31 212.54 L232.56 212.45 L232.82 212.37 L233.08 212.30 L233.34 212.23 L233.59 212.18 L233.85 212.14 L234.11 212.10 L234.37 212.08 L234.62 212.07 L234.88 212.07 L235.14 212.08 L235.39 212.10 L235.65 212.14 L235.91 212.19 L236.17 212.25 L236.42 212.32 L236.68 212.41 L236.94 212.51 L237.19 212.62 L237.45 212.75 L237.71 212.90 L237.97 213.06 L238.22 213.24 L238.48 213.43 L238.74 213.64 L239.00 213.86 L239.25 214.10 L239.51 214.36 L239.77 214.64 L240.02 214.93 L240.28 215.24 L240.54 215.58 L240.80 215.93 L241.05 216.29 L241.31 216.68 L241.57 217.09 L241.83 217.51 L242.08 217.96 L242.34 218.43 L242.60 218.91 L242.85 219.42 L243.11 219.95 L243.37 220.49 L243.63 221.06 L243.88 221.65 L244.14 222.25 L244.40 222.88 L244.66 223.53 L244.91 224.20 L245.17 224.88 L245.43 225.59 L245.68 226.32 L245.94 227.06 L246.20 227.83 L246.46 228.61 L246.71 229.41 L246.97 230.23 L247.23 231.07 L247.48 231.92 L247.74 232.79 L248.00 233.67 L248.26 234.57 L248.51 235.49 L248.77 236.41 L249.03 237.36 L249.29 238.31 L249.54 239.28 L249.80 240.26 L250.06 241.25 L250.31 242.24 L250.57 243.25 L250.83 244.27 L251.09 245.29 L251.34 246.32 L251.60 247.36 L251.86 248.40 L252.12 249.45 L252.37 250.49 L252.63 251.55 L252.89 252.60 L253.14 253.66 L253.40 254.71 L253.66 255.77 L253.92 256.82 L254.17 257.87 L254.43 258.92 L254.69 259.97 L254.94 261.01 L255.20 262.05 L255.46 263.08 L255.72 264.11 L255.97 265.13 L256.23 266.14 L256.49 267.14 L256.75 268.14 L257.00 269.13 L257.26 270.11 L257.52 271.07 L257.77 272.03 L258.03 272.98 L258.29 273.92 L258.55 274.85 L258.80 275.76 L259.06 276.67 L259.32 277.56 L259.58 278.44 L259.83 279.30 L260.09 280.16 L260.35 281.00 L260.60 281.83 L260.86 282.64 L261.12 283.44 L261.38 284.23 L261.63 285.01 L261.89 285.77 L262.15 286.52 L262.41 287.25 L262.66 287.97 L262.92 288.68 L263.18 289.38 L263.43 290.06 L263.69 290.72 L263.95 291.38 L264.21 292.02 L264.46 292.65 L264.72 293.26 L264.98 293.87 L265.24 294.46 L265.49 295.03 L265.75 295.60 L266.01 296.15 L266.26 296.69 L266.52 297.21 L266.78 297.73 L267.04 298.23 L267.29 298.72 L267.55 299.20 L267.81 299.67 L268.06 300.13 L268.32 300.58 L268.58 301.01 L268.84 301.44 L269.09 301.85 L269.35 302.25 L269.61 302.65 L269.87 303.03 L270.12 303.40 L270.38 303.77 L270.64 304.12 L270.89 304.46 L271.15 304.80 L271.41 305.13 L271.67 305.44 L271.92 305.75 L272.18 306.05 L272.44 306.34 L272.70 306.63 L272.95 306.90 L273.21 307.17 L273.47 307.43 L273.72 307.68 L273.98 307.92 L274.24 308.16 L274.50 308.39 L274.75 308.61 L275.01 308.82 L275.27 309.03 L275.52 309.23 L275.78 309.43 L276.04 309.62 L276.30 309.80 L276.55 309.98 L276.81 310.15 L277.07 310.31 L277.33 310.47 L277.58 310.62 L277.84 310.77 L278.10 310.91 L278.35 311.05 L278.61 311.18 L278.87 311.30 L279.13 311.42 L279.38 311.54 L279.64 311.65 L279.90 311.76 L280.16 311.86 L280.41 311.96 L280.67 312.05 L280.93 312.14 L281.18 312.22 L281.44 312.30 L281.70 312.38 L281.96 312.45 L282.21 312.52 L282.47 312.58 L282.73 312.64 L282.99 312.70 L283.24 312.75 L283.50 312.80 L283.76 312.85 L284.01 312.89 L284.27 312.93 L284.53 312.96 L284.79 313.00 L285.04 313.03 L285.30 313.05 L285.56 313.08 L285.82 313.10 L286.07 313.11 L286.33 313.13 L286.59 313.14 L286.84 313.15 L287.10 313.16 L287.36 313.16 L287.62 313.16 L287.87 313.16 L288.13 313.16 L288.39 313.15 L288.64 313.14 L288.90 313.13 L289.16 313.12 L289.42 313.11 L289.67 313.09 L289.93 313.07 L290.19 313.05 L290.45 313.03 L290.70 313.00 L290.96 312.97 L291.22 312.94 L291.47 312.91 L291.73 312.88 L291.99 312.84 L292.25 312.81 L292.50 312.77 L292.76 312.73 L293.02 312.69 L293.28 312.64 L293.53 312.60 L293.79 312.55 L294.05 312.50 L294.30 312.45 L294.56 312.40 L294.82 312.35 L295.08 312.29 L295.33 312.24 L295.59 312.18 L295.85 312.12 L296.11 312.06 L296.36 312.00 L296.62 311.94 L296.88 311.87 L297.13 311.81 L297.39 311.74 L297.65 311.67 L297.91 311.60 L298.16 311.53 L298.42 311.46 L298.68 311.39 L298.93 311.32 L299.19 311.24 L299.45 311.17 L299.71 311.09 L299.96 311.01 L300.22 310.93 L300.48 310.85 L300.74 310.77 L300.99 310.69 L301.25 310.61 L301.51 310.53 L301.76 310.44 L302.02 310.36 L302.28 310.27 L302.54 310.18 L302.79 310.09 L303.05 310.00 L303.31 309.92 L303.57 309.82 L303.82 309.73 L304.08 309.64 L304.34 309.55 L304.59 309.45 L304.85 309.36 L305.11 309.26 L305.37 309.17 L305.62 309.07 L305.88 308.97 L306.14 308.88 L306.40 308.78 L306.65 308.68 L306.91 308.58 L307.17 308.48 L307.42 308.38 L307.68 308.27 L307.94 308.17 L308.20 308.07 L308.45 307.96 L308.71 307.86 L308.97 307.75 L309.22 307.65 L309.48 307.54 L309.74 307.44 L310.00 307.33 L310.25 307.22 L310.51 307.11 L310.77 307.00 L311.03 306.89 L311.28 306.78 L311.54 306.67 L311.80 306.56 L312.05 306.45 L312.31 306.34 L312.57 306.23 L312.83 306.11 L313.08 306.00 L313.34 305.89 L313.60 305.77 L313.86 305.66 L314.11 305.54 L314.37 305.42 L314.63 305.31 L314.88 305.19 L315.14 305.07 L315.40 304.96 L315.66 304.84 L315.91 304.72 L316.17 304.60 L316.43 304.48 L316.69 304.36 L316.94 304.24 L317.20 304.12 L317.46 304.00 L317.71 303.88 L317.97 303.76 L318.23 303.64 L318.49 303.52 L318.74 303.39 L319.00 303.27 L319.26 303.15 L319.51 303.02 L319.77 302.90 L320.03 302.77 L320.29 302.65 L320.54 302.52 L320.80 302.40 L321.06 302.27 L321.32 302.15 L321.57 302.02 L321.83 301.89 L322.09 301.77 L322.34 301.64 L322.60 301.51 L322.86 301.38 L323.12 301.25 L323.37 301.13 L323.63 301.00 L323.89 300.87 L324.15 300.74 L324.40 300.61 L324.66 300.48 L324.92 300.35 L325.17 300.22 L325.43 300.09 L325.69 299.95 L325.95 299.82 L326.20 299.69 L326.46 299.56 L326.72 299.43 L326.98 299.29 L327.23 299.16 L327.49 299.03 L327.75 298.89 L328.00 298.76 L328.26 298.62 L328.52 298.49 L328.78 298.35 L329.03 298.22 L329.29 298.08 L329.55 297.95 L329.80 297.81 L330.06 297.68 L330.32 297.54 L330.58 297.40 L330.83 297.27 L331.09 297.13 L331.35 296.99 L331.61 296.85 L331.86 296.72 L332.12 296.58 L332.38 296.44 L332.63 296.30 L332.89 296.16 L333.15 296.02 L333.41 295.88 L333.66 295.74 L333.92 295.60 L334.18 295.46 L334.44 295.32 L334.69 295.18 L334.95 295.04 L335.21 294.90 L335.46 294.76 L335.72 294.62 L335.98 294.48 L336.24 294.33 L336.49 294.19 L336.75 294.05 L337.01 293.91 L337.27 293.76 L337.52 293.62 L337.78 293.48 L338.04 293.33 L338.29 293.19 L338.55 293.04 L338.81 292.90 L339.07 292.75 L339.32 292.61 L339.58 292.46 L339.84 292.32 L340.09 292.17 L340.35 292.03 L340.61 291.88 L340.87 291.73 L341.12 291.59 L341.38 291.44 L341.64 291.29 L341.90 291.14 L342.15 291.00 L342.41 290.85 L342.67 290.70 L342.92 290.55 L343.18 290.40 L343.44 290.25 L343.70 290.11 L343.95 289.96 L344.21 289.81 L344.47 289.66 L344.73 289.51 L344.98 289.36 L345.24 289.21 L345.50 289.05 L345.75 288.90 L346.01 288.75 L346.27 288.60 L346.53 288.45 L346.78 288.30 L347.04 288.14 L347.30 287.99 L347.56 287.84 L347.81 287.68 L348.07 287.53 L348.33 287.38 L348.58 287.22 L348.84 287.07 L349.10 286.92 L349.36 286.76 L349.61 286.61 L349.87 286.45 L350.13 286.30 L350.38 286.14 L350.64 285.98 L350.90 285.83 L351.16 285.67 L351.41 285.51 L351.67 285.36 L351.93 285.20 L352.19 285.04 L352.44 284.88 L352.70 284.73" stroke="#3cbe3c" stroke-width="0.95" fill="none"/>
<path clip-path="url(#cb)" d="M64.40 217.65L70.20 217.65L67.30 213.95ZM270.20 217.65L276.00 217.65L273.10 213.95ZM66.25 210.85L72.05 210.85L69.15 207.15ZM272.05 210.85L277.85 210.85L274.95 207.15ZM68.05 212.50L73.85 212.50L70.95 208.80ZM273.85 212.50L279.65 212.50L276.75 208.80ZM74.55 202.60L80.35 202.60L77.45 198.90ZM280.35 202.60L286.15 202.60L283.25 198.90ZM85.05 202.25L90.85 202.25L87.95 198.55ZM290.85 202.25L296.65 202.25L293.75 198.55ZM113.45 226.25L119.25 226.25L116.35 222.55ZM319.25 226.25L325.05 226.25L322.15 222.55ZM125.90 238.85L131.70 238.85L128.80 235.15ZM331.70 238.85L337.50 238.85L334.60 235.15ZM131.10 242.25L136.90 242.25L134.00 238.55ZM336.90 242.25L342.70 242.25L339.80 238.55ZM132.45 243.85L138.25 243.85L135.35 240.15ZM338.25 243.85L344.05 243.85L341.15 240.15ZM142.10 248.95L147.90 248.95L145.00 245.25ZM347.90 248.95L353.70 248.95L350.80 245.25ZM170.70 293.65L176.50 293.65L173.60 289.95ZM188.55 310.25L194.35 310.25L191.45 306.55ZM209.60 349.75L215.40 349.75L212.50 346.05ZM229.90 375.45L235.70 375.45L232.80 371.75ZM237.25 372.15L243.05 372.15L240.15 368.45ZM239.50 367.15L245.30 367.15L242.40 363.45Z" stroke="#2c2cc8" stroke-width="0.9" fill="none"/>
<path clip-path="url(#cb)" d="M64.20 303.30h6.2v4h-6.2ZM270.00 303.30h6.2v4h-6.2ZM66.05 303.60h6.2v4h-6.2ZM271.85 303.60h6.2v4h-6.2ZM67.85 304.60h6.2v4h-6.2ZM273.65 304.60h6.2v4h-6.2ZM74.35 311.70h6.2v4h-6.2ZM280.15 311.70h6.2v4h-6.2ZM84.85 312.20h6.2v4h-6.2ZM290.65 312.20h6.2v4h-6.2ZM113.25 297.40h6.2v4h-6.2ZM319.05 297.40h6.2v4h-6.2ZM125.70 291.50h6.2v4h-6.2ZM331.50 291.50h6.2v4h-6.2ZM130.90 289.50h6.2v4h-6.2ZM336.70 289.50h6.2v4h-6.2ZM132.25 288.10h6.2v4h-6.2ZM338.05 288.10h6.2v4h-6.2ZM141.90 286.80h6.2v4h-6.2ZM347.70 286.80h6.2v4h-6.2ZM170.50 264.60h6.2v4h-6.2ZM188.35 247.80h6.2v4h-6.2ZM209.40 228.30h6.2v4h-6.2ZM229.70 211.20h6.2v4h-6.2ZM237.05 214.00h6.2v4h-6.2ZM239.30 216.20h6.2v4h-6.2Z" stroke="#3cbe3c" stroke-width="0.9" fill="none"/></g><g><text transform="translate(108.9 78.8)" font-size="17" font-family="Liberation Sans, sans-serif" fill="#000" stroke="#000" stroke-width="0.3">Ba</text>
<text transform="translate(294.2 73.6) scale(1.02 1)" font-size="17" font-family="Liberation Sans, sans-serif" fill="#000" stroke="#000" stroke-width="0.3">Bb</text>
<text transform="translate(268.4 133.3) scale(0.925 1)" font-size="16.6" font-family="Liberation Sans, sans-serif" fill="#000" stroke="#000" stroke-width="0.3">2458761</text>
<text transform="translate(128.6 208.7) scale(1.066 1)" font-size="16.8" font-family="Liberation Sans, sans-serif" fill="#000" stroke="#000" stroke-width="0.3">HIP 22534B</text>
<text transform="translate(143.8 234.0) scale(1.074 1)" font-size="16.5" font-family="Liberation Sans, sans-serif" fill="#000" stroke="#000" stroke-width="0.3">P=208d</text>
<text transform="translate(273.7 428.9) scale(1.05 1)" font-size="16.8" font-family="Liberation Sans, sans-serif" fill="#000" stroke="#000" stroke-width="0.3">Phase</text>
<text transform="translate(18.0 89.0) rotate(-90)" font-size="18" font-family="Liberation Sans, sans-serif" fill="#000" stroke="#000" stroke-width="0.3">CCF</text>
<text transform="translate(12.6 299.4) rotate(-90)" font-size="18" font-family="Liberation Sans, sans-serif" fill="#000" stroke="#000" stroke-width="0.3">RV[km/s]</text></g></svg></body></html>
